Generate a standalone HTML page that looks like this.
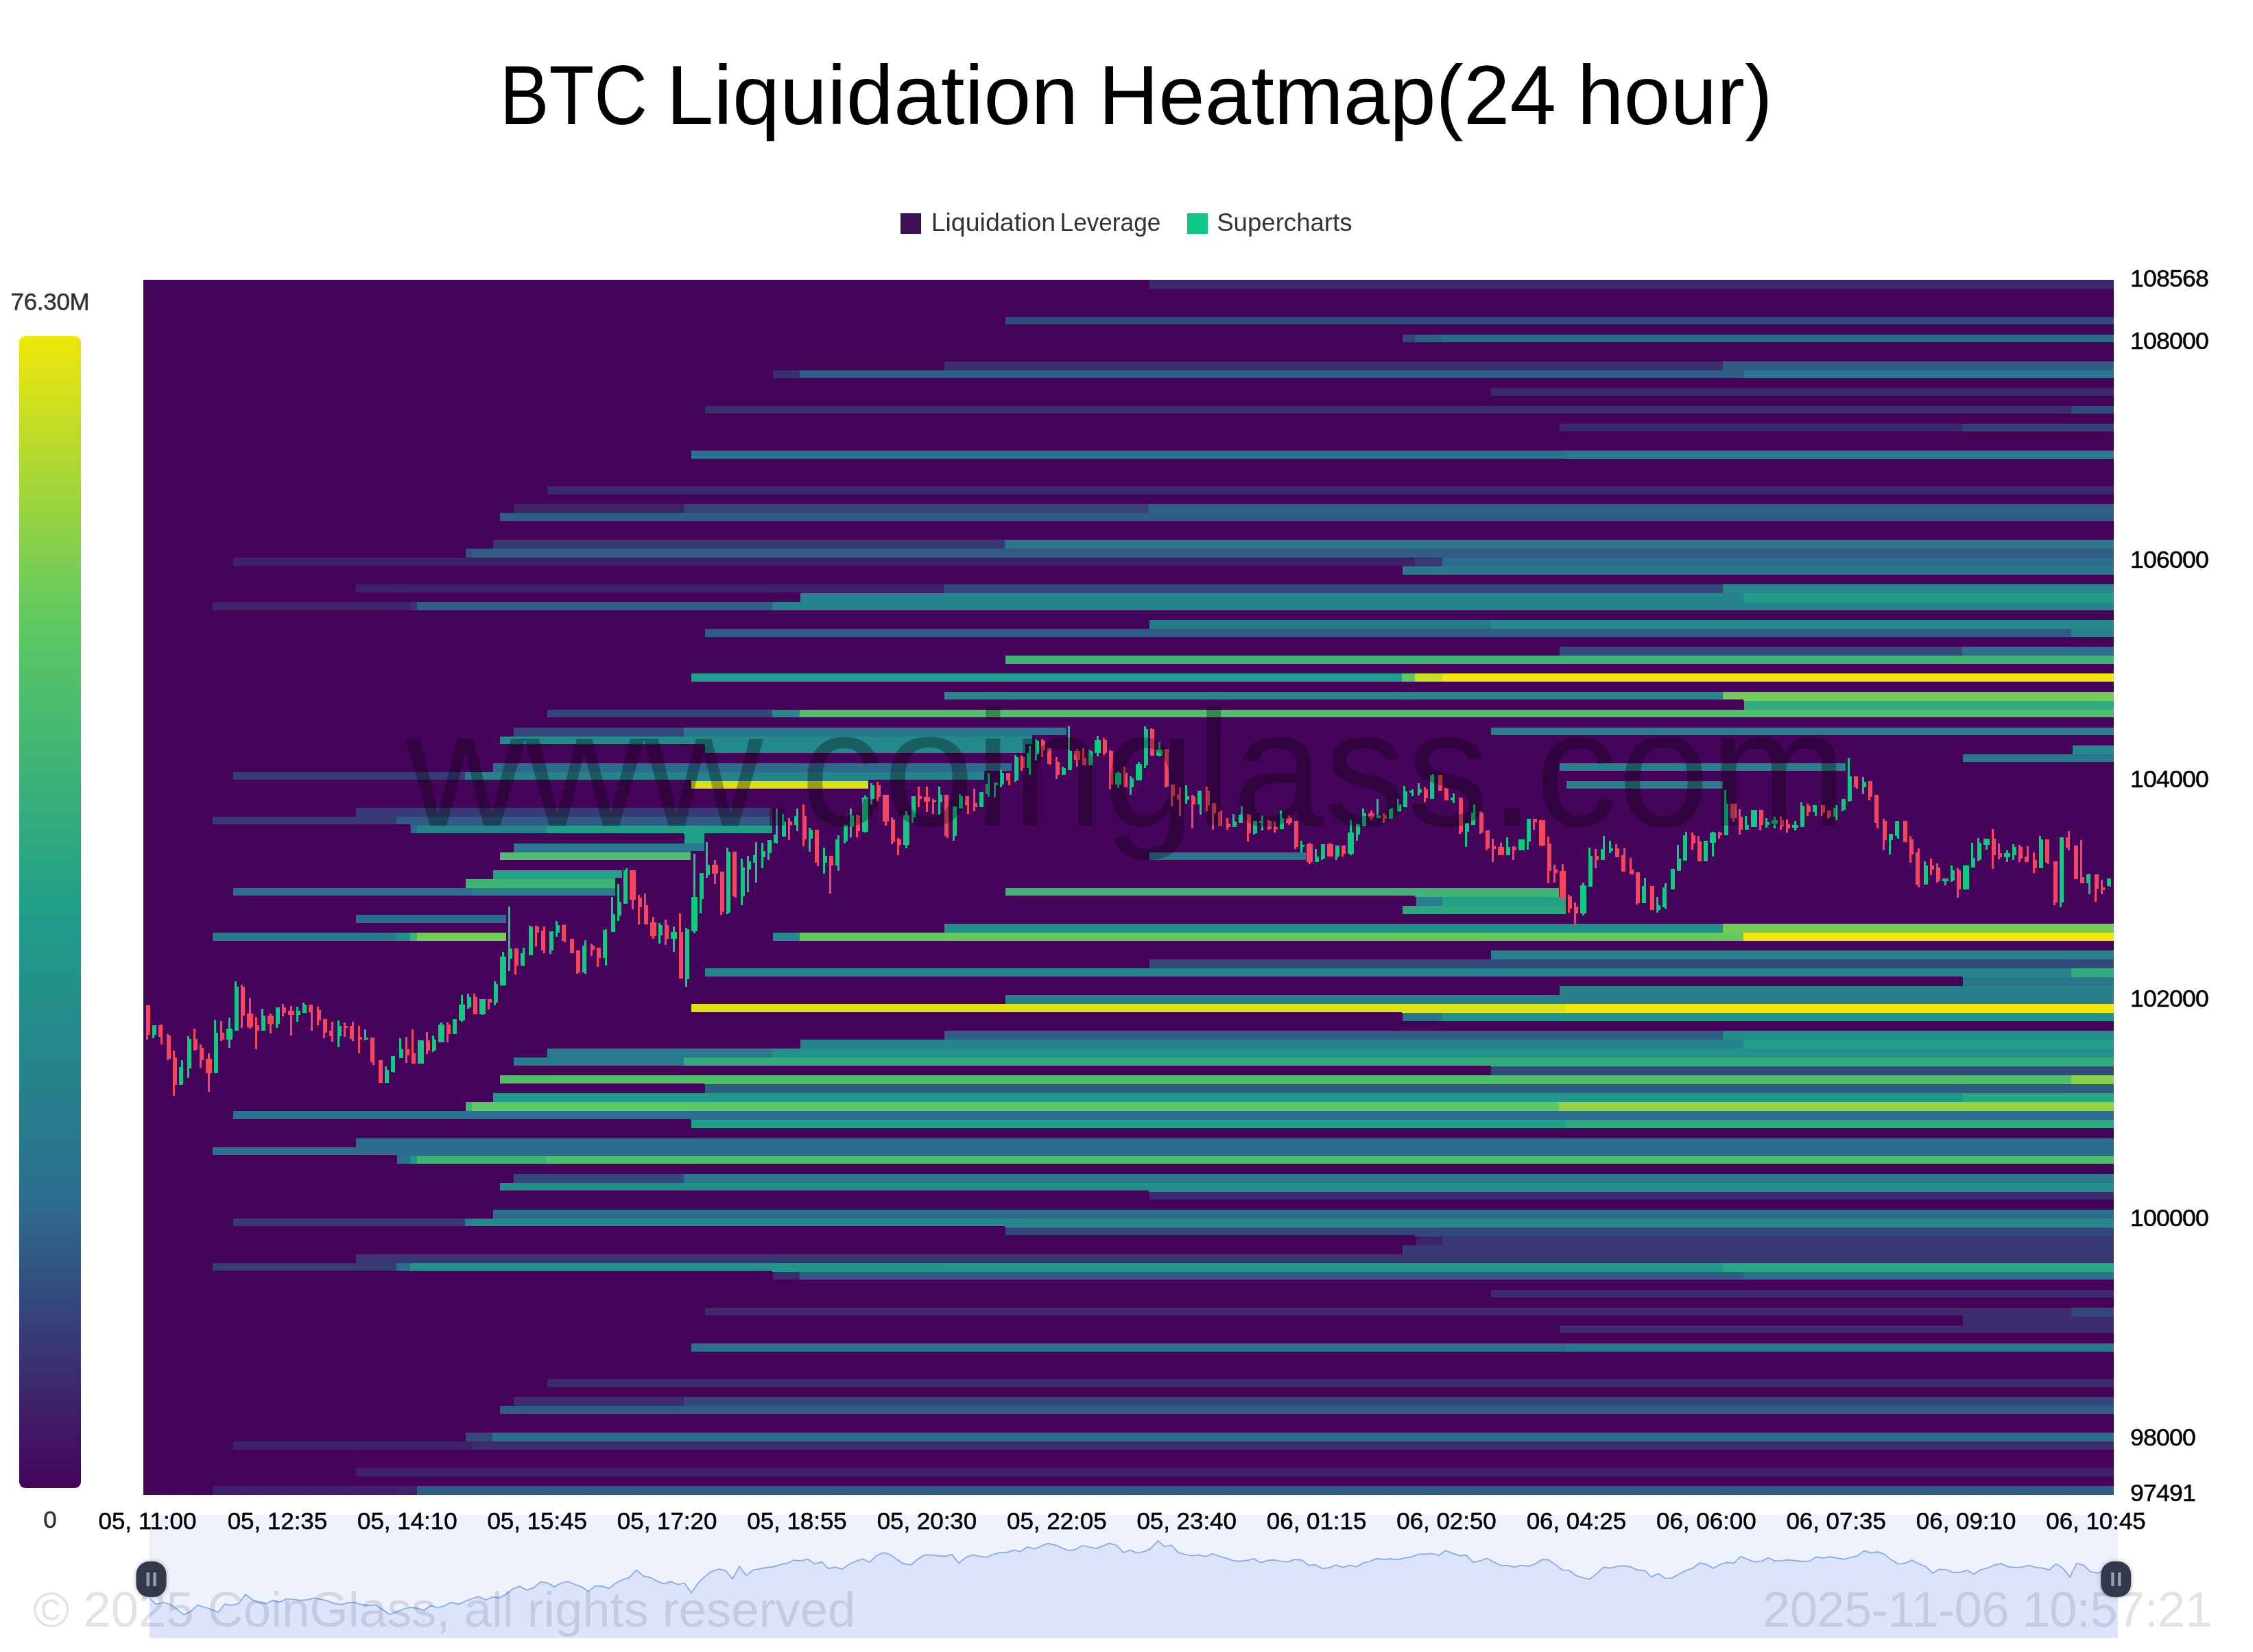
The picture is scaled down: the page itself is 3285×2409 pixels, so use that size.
<!DOCTYPE html><html><head><meta charset="utf-8"><title>BTC Liquidation Heatmap</title><style>html,body{margin:0;padding:0;background:#fff;}body{width:3285px;height:2409px;overflow:hidden;font-family:"Liberation Sans",sans-serif;}</style></head><body><svg width="3285" height="2409" viewBox="0 0 3285 2409" style="display:block;will-change:transform" shape-rendering="crispEdges">
<rect x="0" y="0" width="3285" height="2409" fill="#fff"/>
<rect x="209.1" y="408.1" width="2872.5" height="1771.7" fill="#45035a"/>
<rect x="1675.74" y="408.1" width="1405.86" height="13.02" fill="#3c2a6d"/>
<rect x="1466.39" y="461.68" width="1615.21" height="11.52" fill="#344a7c"/>
<rect x="2044.6" y="487.72" width="18.84" height="11.52" fill="#36447a"/>
<rect x="2063.43" y="487.72" width="39.88" height="11.52" fill="#2f6087"/>
<rect x="2103.31" y="487.72" width="978.29" height="11.52" fill="#2d6b8c"/>
<rect x="1376.67" y="526.78" width="1135.37" height="13.02" fill="#3b2f6f"/>
<rect x="2512.04" y="526.78" width="569.56" height="13.02" fill="#305c85"/>
<rect x="1127.45" y="539.8" width="38.78" height="11.52" fill="#3b2e6f"/>
<rect x="1166.22" y="539.8" width="1375.72" height="11.52" fill="#305c85"/>
<rect x="2541.95" y="539.8" width="539.65" height="11.52" fill="#2a768d"/>
<rect x="2174.19" y="565.84" width="907.41" height="11.52" fill="#3c2a6d"/>
<rect x="1027.76" y="591.88" width="1992.7" height="11.52" fill="#3c2b6d"/>
<rect x="3020.46" y="591.88" width="61.14" height="11.52" fill="#344a7c"/>
<rect x="2273.88" y="617.92" width="587.07" height="11.52" fill="#3c296c"/>
<rect x="2860.95" y="617.92" width="220.65" height="11.52" fill="#374178"/>
<rect x="1007.82" y="656.98" width="1274.93" height="11.52" fill="#2b708e"/>
<rect x="2282.75" y="656.98" width="798.85" height="11.52" fill="#297a8d"/>
<rect x="798.47" y="709.06" width="2283.13" height="11.52" fill="#3c296d"/>
<rect x="748.63" y="735.1" width="248.12" height="13.02" fill="#3d246a"/>
<rect x="996.75" y="735.1" width="677.89" height="13.02" fill="#364379"/>
<rect x="1674.64" y="735.1" width="1406.96" height="13.02" fill="#2f6188"/>
<rect x="728.69" y="748.12" width="18.84" height="11.52" fill="#2f6188"/>
<rect x="747.53" y="748.12" width="2334.07" height="11.52" fill="#315a84"/>
<rect x="718.72" y="787.18" width="746.57" height="13.02" fill="#393773"/>
<rect x="1465.29" y="787.18" width="1616.31" height="13.02" fill="#2a768d"/>
<rect x="678.84" y="800.2" width="8.87" height="13.02" fill="#325280"/>
<rect x="687.71" y="800.2" width="2393.89" height="13.02" fill="#305c85"/>
<rect x="339.9" y="813.22" width="1703.6" height="11.52" fill="#3e2269"/>
<rect x="2043.5" y="813.22" width="19.94" height="13.02" fill="#3e2269"/>
<rect x="2063.43" y="813.22" width="39.88" height="13.02" fill="#383c76"/>
<rect x="2103.31" y="813.22" width="978.29" height="13.02" fill="#2d6b8c"/>
<rect x="2044.6" y="826.24" width="1037" height="11.52" fill="#297a8d"/>
<rect x="519.34" y="852.28" width="646.88" height="11.52" fill="#3e2068"/>
<rect x="1166.22" y="852.28" width="209.35" height="13.02" fill="#3e2068"/>
<rect x="1375.57" y="852.28" width="1136.47" height="13.02" fill="#35487b"/>
<rect x="2512.04" y="852.28" width="569.56" height="13.02" fill="#26868c"/>
<rect x="1167.32" y="865.3" width="1374.62" height="13.02" fill="#26848c"/>
<rect x="2541.95" y="865.3" width="539.65" height="13.02" fill="#209f88"/>
<rect x="309.99" y="878.32" width="268.06" height="11.52" fill="#3e2369"/>
<rect x="578.05" y="878.32" width="19.94" height="11.52" fill="#3d246a"/>
<rect x="597.99" y="878.32" width="9.97" height="11.52" fill="#3b3070"/>
<rect x="607.96" y="878.32" width="518.39" height="11.52" fill="#305e86"/>
<rect x="1126.35" y="878.32" width="1955.25" height="11.52" fill="#26858c"/>
<rect x="1675.74" y="904.36" width="497.35" height="13.02" fill="#29798d"/>
<rect x="2173.09" y="904.36" width="908.51" height="13.02" fill="#25898b"/>
<rect x="1027.76" y="917.38" width="1992.7" height="11.52" fill="#305d86"/>
<rect x="3020.46" y="917.38" width="61.14" height="11.52" fill="#27808c"/>
<rect x="2273.88" y="943.42" width="587.07" height="13.02" fill="#344b7d"/>
<rect x="2860.95" y="943.42" width="220.65" height="13.02" fill="#2c6f8e"/>
<rect x="1466.39" y="956.44" width="1615.21" height="11.52" fill="#3fb475"/>
<rect x="1007.82" y="982.48" width="1035.68" height="11.52" fill="#1f9e89"/>
<rect x="2043.5" y="982.48" width="19.94" height="11.52" fill="#5dc863"/>
<rect x="2063.43" y="982.48" width="39.88" height="11.52" fill="#c7de23"/>
<rect x="2103.31" y="982.48" width="978.29" height="11.52" fill="#f0e60a"/>
<rect x="1376.67" y="1008.52" width="1135.37" height="11.52" fill="#25898b"/>
<rect x="2512.04" y="1008.52" width="29.91" height="11.52" fill="#73cd55"/>
<rect x="2541.95" y="1008.52" width="539.65" height="13.02" fill="#73cd55"/>
<rect x="2543.05" y="1021.54" width="538.55" height="13.02" fill="#33ab7d"/>
<rect x="798.47" y="1034.56" width="327.88" height="11.52" fill="#35487b"/>
<rect x="1126.35" y="1034.56" width="39.88" height="11.52" fill="#25898b"/>
<rect x="1166.22" y="1034.56" width="1915.38" height="11.52" fill="#4fbf6b"/>
<rect x="748.63" y="1060.6" width="248.12" height="13.02" fill="#35487b"/>
<rect x="996.75" y="1060.6" width="508.42" height="13.02" fill="#2a768d"/>
<rect x="1505.17" y="1060.6" width="49.84" height="11.52" fill="#2a768d"/>
<rect x="2174.19" y="1060.6" width="907.41" height="11.52" fill="#27808c"/>
<rect x="728.69" y="1073.62" width="297.97" height="11.52" fill="#25898b"/>
<rect x="1026.66" y="1073.62" width="468.54" height="13.02" fill="#25898b"/>
<rect x="1495.2" y="1073.62" width="9.97" height="11.52" fill="#25898b"/>
<rect x="1027.76" y="1086.64" width="467.44" height="11.52" fill="#25898b"/>
<rect x="3021.56" y="1086.64" width="60.04" height="13.02" fill="#25898b"/>
<rect x="2862.05" y="1099.66" width="219.55" height="11.52" fill="#2a768d"/>
<rect x="718.72" y="1112.68" width="716.67" height="13.02" fill="#2d6b8c"/>
<rect x="1435.39" y="1112.68" width="39.88" height="11.52" fill="#2d6b8c"/>
<rect x="2273.88" y="1112.68" width="417.6" height="11.52" fill="#27808c"/>
<rect x="339.9" y="1125.7" width="337.85" height="11.52" fill="#383b75"/>
<rect x="677.74" y="1125.7" width="9.97" height="11.52" fill="#297a8d"/>
<rect x="687.71" y="1125.7" width="319.01" height="11.52" fill="#27828c"/>
<rect x="1006.72" y="1125.7" width="259.19" height="13.02" fill="#27828c"/>
<rect x="1265.91" y="1125.7" width="169.47" height="11.52" fill="#27828c"/>
<rect x="1007.82" y="1138.72" width="258.09" height="11.52" fill="#dce216"/>
<rect x="2283.85" y="1138.72" width="228.19" height="11.52" fill="#27808c"/>
<rect x="519.34" y="1177.78" width="607.01" height="13.02" fill="#383b75"/>
<rect x="309.99" y="1190.8" width="268.06" height="11.52" fill="#383b75"/>
<rect x="578.05" y="1190.8" width="19.94" height="11.52" fill="#305c85"/>
<rect x="597.99" y="1190.8" width="528.36" height="13.02" fill="#305c85"/>
<rect x="599.09" y="1203.82" width="8.87" height="11.52" fill="#2d6a8c"/>
<rect x="607.96" y="1203.82" width="189.41" height="11.52" fill="#27828c"/>
<rect x="797.37" y="1203.82" width="199.38" height="11.52" fill="#1f9e89"/>
<rect x="996.75" y="1203.82" width="29.91" height="13.02" fill="#1f9e89"/>
<rect x="1026.66" y="1203.82" width="99.69" height="11.52" fill="#1f9e89"/>
<rect x="997.85" y="1216.84" width="28.81" height="13.02" fill="#1f9e89"/>
<rect x="748.63" y="1229.86" width="258.09" height="13.02" fill="#29788d"/>
<rect x="1006.72" y="1229.86" width="19.94" height="11.52" fill="#29788d"/>
<rect x="728.69" y="1242.88" width="278.03" height="11.52" fill="#4fbf6b"/>
<rect x="1675.74" y="1242.88" width="228.19" height="11.52" fill="#2a768d"/>
<rect x="718.72" y="1268.92" width="178.34" height="13.02" fill="#23a187"/>
<rect x="897.06" y="1268.92" width="9.97" height="11.52" fill="#23a187"/>
<rect x="678.84" y="1281.94" width="218.22" height="13.02" fill="#3fb475"/>
<rect x="339.9" y="1294.96" width="347.81" height="11.52" fill="#2b708e"/>
<rect x="687.71" y="1294.96" width="209.35" height="11.52" fill="#27808c"/>
<rect x="1466.39" y="1294.96" width="597.04" height="11.52" fill="#3fb475"/>
<rect x="2063.43" y="1294.96" width="209.35" height="13.02" fill="#3fb475"/>
<rect x="2064.53" y="1307.98" width="38.78" height="13.02" fill="#277f8c"/>
<rect x="2103.31" y="1307.98" width="179.44" height="13.02" fill="#23a187"/>
<rect x="2044.6" y="1321" width="238.16" height="11.52" fill="#2ca781"/>
<rect x="519.34" y="1334.02" width="218.22" height="11.52" fill="#2c6c8d"/>
<rect x="1376.67" y="1347.04" width="1135.37" height="13.02" fill="#238f8b"/>
<rect x="2512.04" y="1347.04" width="569.56" height="13.02" fill="#73cd55"/>
<rect x="309.99" y="1360.06" width="268.06" height="11.52" fill="#29788d"/>
<rect x="578.05" y="1360.06" width="19.94" height="11.52" fill="#23908a"/>
<rect x="597.99" y="1360.06" width="9.97" height="11.52" fill="#3fb475"/>
<rect x="607.96" y="1360.06" width="129.6" height="11.52" fill="#73cd55"/>
<rect x="1127.45" y="1360.06" width="38.78" height="11.52" fill="#25898b"/>
<rect x="1166.22" y="1360.06" width="1375.72" height="11.52" fill="#63c95f"/>
<rect x="2541.95" y="1360.06" width="539.65" height="11.52" fill="#f0e60a"/>
<rect x="2174.19" y="1386.1" width="907.41" height="13.02" fill="#27808c"/>
<rect x="1675.74" y="1399.12" width="1405.86" height="13.02" fill="#35487b"/>
<rect x="1027.76" y="1412.14" width="1833.2" height="11.52" fill="#26858c"/>
<rect x="2860.95" y="1412.14" width="159.5" height="13.02" fill="#26858c"/>
<rect x="3020.46" y="1412.14" width="61.14" height="13.02" fill="#33ab7d"/>
<rect x="2862.05" y="1425.16" width="219.55" height="13.02" fill="#2a768d"/>
<rect x="2273.88" y="1438.18" width="807.72" height="13.02" fill="#27808c"/>
<rect x="1466.39" y="1451.2" width="1615.21" height="13.02" fill="#27808c"/>
<rect x="1007.82" y="1464.22" width="1035.68" height="11.52" fill="#dce216"/>
<rect x="2043.5" y="1464.22" width="239.26" height="13.02" fill="#dce216"/>
<rect x="2282.75" y="1464.22" width="798.85" height="13.02" fill="#f0e60a"/>
<rect x="2044.6" y="1477.24" width="58.71" height="11.52" fill="#2a768d"/>
<rect x="2103.31" y="1477.24" width="978.29" height="11.52" fill="#22938a"/>
<rect x="1376.67" y="1503.28" width="1135.37" height="13.02" fill="#305c85"/>
<rect x="2512.04" y="1503.28" width="569.56" height="13.02" fill="#238f8b"/>
<rect x="1167.32" y="1516.3" width="1374.62" height="13.02" fill="#26858c"/>
<rect x="2541.95" y="1516.3" width="539.65" height="13.02" fill="#219f88"/>
<rect x="798.47" y="1529.32" width="327.88" height="13.02" fill="#297a8d"/>
<rect x="1126.35" y="1529.32" width="1955.25" height="13.02" fill="#23908a"/>
<rect x="748.63" y="1542.34" width="248.12" height="11.52" fill="#297a8d"/>
<rect x="996.75" y="1542.34" width="1176.34" height="11.52" fill="#33ab7d"/>
<rect x="2173.09" y="1542.34" width="908.51" height="13.02" fill="#33ab7d"/>
<rect x="2174.19" y="1555.36" width="907.41" height="13.02" fill="#35487b"/>
<rect x="728.69" y="1568.38" width="297.97" height="11.52" fill="#4fbf6b"/>
<rect x="1026.66" y="1568.38" width="1993.8" height="13.02" fill="#4fbf6b"/>
<rect x="3020.46" y="1568.38" width="61.14" height="13.02" fill="#86d04a"/>
<rect x="1027.76" y="1581.4" width="2053.84" height="13.02" fill="#305c85"/>
<rect x="718.72" y="1594.42" width="2142.23" height="13.02" fill="#21988a"/>
<rect x="2860.95" y="1594.42" width="220.65" height="13.02" fill="#2ba682"/>
<rect x="678.84" y="1607.44" width="8.87" height="13.02" fill="#3fb475"/>
<rect x="687.71" y="1607.44" width="1585.07" height="13.02" fill="#5dc863"/>
<rect x="2272.78" y="1607.44" width="808.82" height="13.02" fill="#93d342"/>
<rect x="339.9" y="1620.46" width="666.82" height="11.52" fill="#2b708e"/>
<rect x="1006.72" y="1620.46" width="2074.88" height="13.02" fill="#2b708e"/>
<rect x="1007.82" y="1633.48" width="1274.93" height="11.52" fill="#209f88"/>
<rect x="2282.75" y="1633.48" width="798.85" height="11.52" fill="#2fa97f"/>
<rect x="519.34" y="1659.52" width="2562.26" height="13.02" fill="#2c6c8d"/>
<rect x="309.99" y="1672.54" width="208.25" height="11.52" fill="#2b708e"/>
<rect x="518.24" y="1672.54" width="59.81" height="11.52" fill="#2c6d8d"/>
<rect x="578.05" y="1672.54" width="2503.55" height="13.02" fill="#2c6d8d"/>
<rect x="579.15" y="1685.56" width="18.84" height="11.52" fill="#2b708e"/>
<rect x="597.99" y="1685.56" width="9.97" height="11.52" fill="#21988a"/>
<rect x="607.96" y="1685.56" width="189.41" height="11.52" fill="#3fb475"/>
<rect x="797.37" y="1685.56" width="2284.23" height="11.52" fill="#4fbf6b"/>
<rect x="748.63" y="1711.6" width="248.12" height="13.02" fill="#35487b"/>
<rect x="996.75" y="1711.6" width="2084.85" height="13.02" fill="#29788d"/>
<rect x="728.69" y="1724.62" width="945.96" height="11.52" fill="#238f8b"/>
<rect x="1674.64" y="1724.62" width="1406.96" height="13.02" fill="#238f8b"/>
<rect x="1675.74" y="1737.64" width="1405.86" height="11.52" fill="#3c2b6d"/>
<rect x="718.72" y="1763.68" width="2362.88" height="13.02" fill="#2c6c8d"/>
<rect x="339.9" y="1776.7" width="337.85" height="11.52" fill="#383b75"/>
<rect x="677.74" y="1776.7" width="9.97" height="11.52" fill="#277f8c"/>
<rect x="687.71" y="1776.7" width="777.58" height="11.52" fill="#25898b"/>
<rect x="1465.29" y="1776.7" width="1616.31" height="13.02" fill="#25898b"/>
<rect x="1466.39" y="1789.72" width="597.04" height="11.52" fill="#35487b"/>
<rect x="2063.43" y="1789.72" width="1018.17" height="13.02" fill="#35487b"/>
<rect x="2064.53" y="1802.74" width="38.78" height="13.02" fill="#3d246a"/>
<rect x="2103.31" y="1802.74" width="978.29" height="13.02" fill="#383a75"/>
<rect x="2044.6" y="1815.76" width="1037" height="13.02" fill="#383b75"/>
<rect x="519.34" y="1828.78" width="2562.26" height="13.02" fill="#393673"/>
<rect x="309.99" y="1841.8" width="268.06" height="11.52" fill="#383b75"/>
<rect x="578.05" y="1841.8" width="19.94" height="11.52" fill="#2c6c8d"/>
<rect x="597.99" y="1841.8" width="528.36" height="11.52" fill="#23908a"/>
<rect x="1126.35" y="1841.8" width="249.22" height="13.02" fill="#22948a"/>
<rect x="1375.57" y="1841.8" width="1136.47" height="13.02" fill="#21988a"/>
<rect x="2512.04" y="1841.8" width="569.56" height="13.02" fill="#2ba682"/>
<rect x="1127.45" y="1854.82" width="38.78" height="11.52" fill="#3c2b6d"/>
<rect x="1166.22" y="1854.82" width="1375.72" height="11.52" fill="#305c85"/>
<rect x="2541.95" y="1854.82" width="539.65" height="11.52" fill="#2b708e"/>
<rect x="2174.19" y="1880.86" width="907.41" height="11.52" fill="#3c2b6d"/>
<rect x="1027.76" y="1906.9" width="1833.2" height="11.52" fill="#3c2b6d"/>
<rect x="2860.95" y="1906.9" width="159.5" height="13.02" fill="#3c2b6d"/>
<rect x="3020.46" y="1906.9" width="61.14" height="13.02" fill="#35487b"/>
<rect x="2862.05" y="1919.92" width="219.55" height="13.02" fill="#3c2b6d"/>
<rect x="2273.88" y="1932.94" width="807.72" height="11.52" fill="#3c2b6d"/>
<rect x="1007.82" y="1958.98" width="1274.93" height="11.52" fill="#2b708e"/>
<rect x="2282.75" y="1958.98" width="798.85" height="11.52" fill="#297a8d"/>
<rect x="798.47" y="2011.06" width="2283.13" height="11.52" fill="#3c2b6d"/>
<rect x="748.63" y="2037.1" width="248.12" height="13.02" fill="#3c2b6d"/>
<rect x="996.75" y="2037.1" width="2084.85" height="13.02" fill="#35487b"/>
<rect x="728.69" y="2050.12" width="2352.91" height="11.52" fill="#305c85"/>
<rect x="678.84" y="2089.18" width="38.78" height="13.02" fill="#35487b"/>
<rect x="717.62" y="2089.18" width="2363.98" height="13.02" fill="#2c6c8d"/>
<rect x="339.9" y="2102.2" width="347.81" height="11.52" fill="#3e2269"/>
<rect x="687.71" y="2102.2" width="2393.89" height="11.52" fill="#3c2b6d"/>
<rect x="519.34" y="2141.26" width="2562.26" height="11.52" fill="#3e2269"/>
<rect x="309.99" y="2167.3" width="268.06" height="12.5" fill="#3e2269"/>
<rect x="578.05" y="2167.3" width="29.91" height="12.5" fill="#3d246a"/>
<rect x="607.96" y="2167.3" width="2473.64" height="12.5" fill="#305c85"/>
<line x1="210" y1="2181.3" x2="3082" y2="2181.3" stroke="#e9e9e9" stroke-width="1.5" stroke-dasharray="12 6"/>
<rect x="213" y="1465.81" width="3" height="50.07" fill="#f6465d"/>
<rect x="213" y="1465.81" width="6" height="42.96" fill="#f6465d"/>
<rect x="222" y="1495.45" width="3" height="19" fill="#0ecb81"/>
<rect x="222" y="1495.45" width="6" height="13.32" fill="#0ecb81"/>
<rect x="234" y="1493.68" width="3" height="29.29" fill="#f6465d"/>
<rect x="231" y="1495.45" width="6" height="16.87" fill="#f6465d"/>
<rect x="243" y="1507.88" width="3" height="38.53" fill="#f6465d"/>
<rect x="243" y="1509.66" width="6" height="34.62" fill="#f6465d"/>
<rect x="252" y="1532.21" width="3" height="65.34" fill="#f6465d"/>
<rect x="252" y="1541.97" width="6" height="39.59" fill="#f6465d"/>
<rect x="264" y="1545.52" width="3" height="36.4" fill="#0ecb81"/>
<rect x="261" y="1555.82" width="6" height="26.1" fill="#0ecb81"/>
<rect x="273" y="1510.9" width="3" height="61.43" fill="#0ecb81"/>
<rect x="273" y="1514.63" width="6" height="43.85" fill="#0ecb81"/>
<rect x="282" y="1500.25" width="3" height="31.96" fill="#f6465d"/>
<rect x="282" y="1514.63" width="6" height="16.33" fill="#f6465d"/>
<rect x="291" y="1522.97" width="3" height="33.73" fill="#f6465d"/>
<rect x="291" y="1527.94" width="6" height="18.11" fill="#f6465d"/>
<rect x="303" y="1535.76" width="3" height="56.1" fill="#f6465d"/>
<rect x="300" y="1543.75" width="9" height="21.48" fill="#f6465d"/>
<rect x="312" y="1487.47" width="3" height="77.76" fill="#0ecb81"/>
<rect x="312" y="1506.46" width="6" height="58.77" fill="#0ecb81"/>
<rect x="321" y="1488.89" width="3" height="28.76" fill="#f6465d"/>
<rect x="321" y="1506.46" width="6" height="9.41" fill="#f6465d"/>
<rect x="333" y="1483.91" width="3" height="44.39" fill="#0ecb81"/>
<rect x="330" y="1499.89" width="9" height="15.62" fill="#0ecb81"/>
<rect x="342" y="1430.65" width="3" height="71.9" fill="#0ecb81"/>
<rect x="342" y="1438.64" width="6" height="63.91" fill="#0ecb81"/>
<rect x="351" y="1435.98" width="3" height="62.67" fill="#f6465d"/>
<rect x="351" y="1438.64" width="6" height="42.61" fill="#f6465d"/>
<rect x="363" y="1454.98" width="3" height="44.92" fill="#f6465d"/>
<rect x="360" y="1478.06" width="9" height="20.06" fill="#f6465d"/>
<rect x="372" y="1483.03" width="3" height="46.69" fill="#f6465d"/>
<rect x="372" y="1495.1" width="6" height="8.34" fill="#f6465d"/>
<rect x="381" y="1470.6" width="3" height="32.85" fill="#0ecb81"/>
<rect x="381" y="1481.25" width="6" height="22.19" fill="#0ecb81"/>
<rect x="393" y="1477.7" width="3" height="28.94" fill="#f6465d"/>
<rect x="390" y="1481.25" width="9" height="11.9" fill="#f6465d"/>
<rect x="402" y="1468.82" width="3" height="29.83" fill="#0ecb81"/>
<rect x="402" y="1468.82" width="6" height="24.5" fill="#0ecb81"/>
<rect x="411" y="1464.03" width="3" height="17.58" fill="#f6465d"/>
<rect x="411" y="1468.82" width="6" height="7.99" fill="#f6465d"/>
<rect x="423" y="1466.52" width="3" height="43.14" fill="#f6465d"/>
<rect x="420" y="1474.15" width="9" height="5.68" fill="#f6465d"/>
<rect x="432" y="1468.29" width="3" height="21.48" fill="#0ecb81"/>
<rect x="432" y="1474.15" width="6" height="5.68" fill="#0ecb81"/>
<rect x="441" y="1461.72" width="3" height="15.09" fill="#0ecb81"/>
<rect x="441" y="1465.27" width="6" height="11.54" fill="#0ecb81"/>
<rect x="453" y="1464.92" width="3" height="38.53" fill="#f6465d"/>
<rect x="450" y="1464.92" width="6" height="11.01" fill="#f6465d"/>
<rect x="462" y="1467.94" width="3" height="26.63" fill="#f6465d"/>
<rect x="462" y="1472.91" width="6" height="15.45" fill="#f6465d"/>
<rect x="471" y="1485.69" width="3" height="28.05" fill="#f6465d"/>
<rect x="471" y="1485.69" width="6" height="20.42" fill="#f6465d"/>
<rect x="483" y="1490.48" width="3" height="28.41" fill="#f6465d"/>
<rect x="480" y="1503.09" width="6" height="7.46" fill="#f6465d"/>
<rect x="492" y="1488.35" width="3" height="38.17" fill="#0ecb81"/>
<rect x="492" y="1496.34" width="6" height="14.2" fill="#0ecb81"/>
<rect x="501" y="1491.37" width="3" height="20.42" fill="#f6465d"/>
<rect x="501" y="1496.34" width="6" height="2.66" fill="#f6465d"/>
<rect x="513" y="1490.48" width="3" height="27.16" fill="#f6465d"/>
<rect x="510" y="1496.34" width="6" height="18.29" fill="#f6465d"/>
<rect x="522" y="1495.81" width="3" height="39.95" fill="#f6465d"/>
<rect x="522" y="1511.97" width="6" height="4.44" fill="#f6465d"/>
<rect x="531" y="1500.78" width="3" height="16.51" fill="#0ecb81"/>
<rect x="531" y="1513.21" width="6" height="3.2" fill="#0ecb81"/>
<rect x="543" y="1513.21" width="3" height="39.59" fill="#f6465d"/>
<rect x="540" y="1513.21" width="6" height="35.51" fill="#f6465d"/>
<rect x="552" y="1546.05" width="3" height="32.85" fill="#f6465d"/>
<rect x="552" y="1546.05" width="6" height="32.85" fill="#f6465d"/>
<rect x="561" y="1554.93" width="3" height="23.97" fill="#0ecb81"/>
<rect x="561" y="1560.26" width="6" height="18.64" fill="#0ecb81"/>
<rect x="573" y="1540.2" width="3" height="23.97" fill="#0ecb81"/>
<rect x="570" y="1540.2" width="6" height="22.73" fill="#0ecb81"/>
<rect x="582" y="1513.74" width="3" height="28.76" fill="#0ecb81"/>
<rect x="582" y="1530.08" width="6" height="12.43" fill="#0ecb81"/>
<rect x="591" y="1511.79" width="3" height="38.35" fill="#f6465d"/>
<rect x="591" y="1530.08" width="6" height="8.52" fill="#f6465d"/>
<rect x="600" y="1501.03" width="3" height="49.57" fill="#f6465d"/>
<rect x="600" y="1536.07" width="6" height="14.53" fill="#f6465d"/>
<rect x="612" y="1517.01" width="3" height="33.59" fill="#0ecb81"/>
<rect x="609" y="1517.01" width="9" height="33.59" fill="#0ecb81"/>
<rect x="621" y="1505.2" width="3" height="32.14" fill="#f6465d"/>
<rect x="621" y="1517.01" width="6" height="14.53" fill="#f6465d"/>
<rect x="630" y="1510.11" width="3" height="23.6" fill="#0ecb81"/>
<rect x="630" y="1516.46" width="6" height="15.07" fill="#0ecb81"/>
<rect x="642" y="1490.5" width="3" height="29.05" fill="#0ecb81"/>
<rect x="639" y="1494.31" width="9" height="25.24" fill="#0ecb81"/>
<rect x="651" y="1490.5" width="3" height="29.6" fill="#f6465d"/>
<rect x="651" y="1494.31" width="6" height="13.98" fill="#f6465d"/>
<rect x="660" y="1485.59" width="3" height="22.7" fill="#0ecb81"/>
<rect x="660" y="1485.59" width="6" height="22.7" fill="#0ecb81"/>
<rect x="672" y="1450.55" width="3" height="39.58" fill="#0ecb81"/>
<rect x="669" y="1465.26" width="9" height="23.06" fill="#0ecb81"/>
<rect x="681" y="1449.28" width="3" height="21.43" fill="#0ecb81"/>
<rect x="681" y="1454.36" width="6" height="14.53" fill="#0ecb81"/>
<rect x="690" y="1449.28" width="3" height="29.41" fill="#f6465d"/>
<rect x="690" y="1454.36" width="6" height="24.33" fill="#f6465d"/>
<rect x="702" y="1457.09" width="3" height="22.7" fill="#0ecb81"/>
<rect x="699" y="1457.09" width="9" height="21.61" fill="#0ecb81"/>
<rect x="711" y="1457.09" width="3" height="15.25" fill="#f6465d"/>
<rect x="711" y="1457.09" width="6" height="5.27" fill="#f6465d"/>
<rect x="720" y="1430.76" width="3" height="35.22" fill="#0ecb81"/>
<rect x="720" y="1434.75" width="6" height="27.24" fill="#0ecb81"/>
<rect x="732" y="1388.09" width="3" height="49.39" fill="#0ecb81"/>
<rect x="729" y="1395.35" width="9" height="42.12" fill="#0ecb81"/>
<rect x="741" y="1322.18" width="3" height="93.87" fill="#0ecb81"/>
<rect x="741" y="1382.64" width="6" height="15.8" fill="#0ecb81"/>
<rect x="750" y="1382.64" width="3" height="37.95" fill="#f6465d"/>
<rect x="750" y="1382.64" width="6" height="25.42" fill="#f6465d"/>
<rect x="762" y="1381.74" width="3" height="27.6" fill="#0ecb81"/>
<rect x="759" y="1389.91" width="6" height="18.16" fill="#0ecb81"/>
<rect x="771" y="1349.96" width="3" height="42.67" fill="#0ecb81"/>
<rect x="771" y="1351.23" width="6" height="41.4" fill="#0ecb81"/>
<rect x="780" y="1349.96" width="3" height="29.96" fill="#f6465d"/>
<rect x="780" y="1351.23" width="6" height="8.72" fill="#f6465d"/>
<rect x="792" y="1351.23" width="3" height="38.67" fill="#f6465d"/>
<rect x="789" y="1357.22" width="6" height="28.87" fill="#f6465d"/>
<rect x="801" y="1357.59" width="3" height="33.59" fill="#0ecb81"/>
<rect x="801" y="1357.59" width="6" height="28.14" fill="#0ecb81"/>
<rect x="810" y="1343.42" width="3" height="22.33" fill="#0ecb81"/>
<rect x="810" y="1348.51" width="6" height="11.8" fill="#0ecb81"/>
<rect x="822" y="1348.15" width="3" height="25.78" fill="#f6465d"/>
<rect x="819" y="1348.51" width="6" height="23.6" fill="#f6465d"/>
<rect x="831" y="1369.03" width="3" height="20.7" fill="#f6465d"/>
<rect x="831" y="1369.03" width="6" height="20.7" fill="#f6465d"/>
<rect x="840" y="1386.09" width="3" height="33.59" fill="#f6465d"/>
<rect x="840" y="1386.09" width="6" height="31.41" fill="#f6465d"/>
<rect x="852" y="1371.21" width="3" height="48.66" fill="#0ecb81"/>
<rect x="849" y="1379.01" width="6" height="38.49" fill="#0ecb81"/>
<rect x="861" y="1375.74" width="3" height="18.7" fill="#f6465d"/>
<rect x="861" y="1379.01" width="6" height="5.81" fill="#f6465d"/>
<rect x="870" y="1381.74" width="3" height="27.96" fill="#f6465d"/>
<rect x="870" y="1381.74" width="6" height="15.43" fill="#f6465d"/>
<rect x="882" y="1355.41" width="3" height="52.11" fill="#0ecb81"/>
<rect x="879" y="1356.13" width="6" height="41.03" fill="#0ecb81"/>
<rect x="891" y="1308.02" width="3" height="50.84" fill="#0ecb81"/>
<rect x="891" y="1332.71" width="6" height="26.15" fill="#0ecb81"/>
<rect x="900" y="1289.14" width="3" height="53.93" fill="#0ecb81"/>
<rect x="900" y="1314.92" width="6" height="19.97" fill="#0ecb81"/>
<rect x="912" y="1265.89" width="3" height="52.11" fill="#0ecb81"/>
<rect x="909" y="1268.62" width="6" height="49.39" fill="#0ecb81"/>
<rect x="921" y="1268.62" width="3" height="57.56" fill="#f6465d"/>
<rect x="918" y="1268.62" width="9" height="43.21" fill="#f6465d"/>
<rect x="930" y="1304.93" width="3" height="43.03" fill="#f6465d"/>
<rect x="930" y="1309.11" width="6" height="13.44" fill="#f6465d"/>
<rect x="939" y="1303.12" width="3" height="44.85" fill="#f6465d"/>
<rect x="939" y="1320" width="6" height="27.96" fill="#f6465d"/>
<rect x="951" y="1337.07" width="3" height="31.96" fill="#f6465d"/>
<rect x="948" y="1345.24" width="9" height="19.61" fill="#f6465d"/>
<rect x="960" y="1346.15" width="3" height="29.96" fill="#0ecb81"/>
<rect x="960" y="1349.05" width="6" height="15.43" fill="#0ecb81"/>
<rect x="969" y="1340.88" width="3" height="36.68" fill="#f6465d"/>
<rect x="969" y="1349.05" width="6" height="19.97" fill="#f6465d"/>
<rect x="981" y="1350.87" width="3" height="37.22" fill="#0ecb81"/>
<rect x="978" y="1359.4" width="9" height="9.62" fill="#0ecb81"/>
<rect x="990" y="1332.17" width="3" height="95.32" fill="#f6465d"/>
<rect x="990" y="1359.04" width="6" height="68.45" fill="#f6465d"/>
<rect x="999" y="1353.1" width="3" height="85.79" fill="#0ecb81"/>
<rect x="999" y="1355.18" width="6" height="72.63" fill="#0ecb81"/>
<rect x="1011" y="1244.81" width="3" height="116.21" fill="#0ecb81"/>
<rect x="1008" y="1307.82" width="9" height="49.93" fill="#0ecb81"/>
<rect x="1020" y="1272.96" width="3" height="59.37" fill="#0ecb81"/>
<rect x="1020" y="1272.96" width="6" height="38.49" fill="#0ecb81"/>
<rect x="1029" y="1228.47" width="3" height="51.57" fill="#0ecb81"/>
<rect x="1029" y="1260.61" width="6" height="15.43" fill="#0ecb81"/>
<rect x="1041" y="1254.25" width="3" height="34.5" fill="#f6465d"/>
<rect x="1038" y="1260.61" width="9" height="13.25" fill="#f6465d"/>
<rect x="1050" y="1271.14" width="3" height="63" fill="#f6465d"/>
<rect x="1050" y="1271.14" width="6" height="58.47" fill="#f6465d"/>
<rect x="1059" y="1236.1" width="3" height="96.6" fill="#0ecb81"/>
<rect x="1059" y="1242.09" width="6" height="88.42" fill="#0ecb81"/>
<rect x="1071" y="1242.09" width="3" height="66.64" fill="#f6465d"/>
<rect x="1068" y="1242.09" width="6" height="64.46" fill="#f6465d"/>
<rect x="1080" y="1251.89" width="3" height="67.73" fill="#0ecb81"/>
<rect x="1080" y="1265.15" width="6" height="41.4" fill="#0ecb81"/>
<rect x="1089" y="1247.9" width="3" height="53.56" fill="#0ecb81"/>
<rect x="1089" y="1255.52" width="6" height="11.98" fill="#0ecb81"/>
<rect x="1101" y="1228.47" width="3" height="58.47" fill="#0ecb81"/>
<rect x="1098" y="1247.35" width="6" height="11.08" fill="#0ecb81"/>
<rect x="1110" y="1229.38" width="3" height="36.68" fill="#0ecb81"/>
<rect x="1110" y="1241" width="6" height="9.26" fill="#0ecb81"/>
<rect x="1119" y="1225.2" width="3" height="28.69" fill="#0ecb81"/>
<rect x="1119" y="1225.2" width="6" height="18.7" fill="#0ecb81"/>
<rect x="1131" y="1179.26" width="3" height="50.48" fill="#0ecb81"/>
<rect x="1128" y="1217.03" width="6" height="11.8" fill="#0ecb81"/>
<rect x="1140" y="1187.07" width="3" height="32.68" fill="#0ecb81"/>
<rect x="1140" y="1197.6" width="6" height="22.15" fill="#0ecb81"/>
<rect x="1149" y="1193.06" width="3" height="32.14" fill="#f6465d"/>
<rect x="1149" y="1197.6" width="6" height="4.9" fill="#f6465d"/>
<rect x="1161" y="1179.45" width="3" height="32.14" fill="#0ecb81"/>
<rect x="1158" y="1190.34" width="6" height="12.17" fill="#0ecb81"/>
<rect x="1170" y="1172.55" width="3" height="61.19" fill="#f6465d"/>
<rect x="1170" y="1190.34" width="6" height="33.41" fill="#f6465d"/>
<rect x="1179" y="1207.04" width="3" height="35.41" fill="#0ecb81"/>
<rect x="1179" y="1210.31" width="6" height="13.07" fill="#0ecb81"/>
<rect x="1191" y="1210.31" width="3" height="52.47" fill="#f6465d"/>
<rect x="1188" y="1210.31" width="6" height="47.21" fill="#f6465d"/>
<rect x="1200" y="1235.55" width="3" height="38.13" fill="#0ecb81"/>
<rect x="1200" y="1247.9" width="6" height="9.62" fill="#0ecb81"/>
<rect x="1209" y="1247.9" width="3" height="54.83" fill="#f6465d"/>
<rect x="1209" y="1247.9" width="6" height="13.62" fill="#f6465d"/>
<rect x="1221" y="1218.3" width="3" height="51.38" fill="#0ecb81"/>
<rect x="1218" y="1223.93" width="6" height="37.59" fill="#0ecb81"/>
<rect x="1230" y="1202.51" width="3" height="27.24" fill="#0ecb81"/>
<rect x="1230" y="1202.51" width="6" height="24.15" fill="#0ecb81"/>
<rect x="1239" y="1179.26" width="3" height="41.4" fill="#0ecb81"/>
<rect x="1239" y="1189.25" width="6" height="15.98" fill="#0ecb81"/>
<rect x="1248" y="1187.98" width="3" height="33.23" fill="#f6465d"/>
<rect x="1248" y="1189.25" width="6" height="23.24" fill="#f6465d"/>
<rect x="1260" y="1160.2" width="3" height="53.56" fill="#0ecb81"/>
<rect x="1257" y="1162.92" width="9" height="49.93" fill="#0ecb81"/>
<rect x="1269" y="1142.22" width="3" height="30.87" fill="#0ecb81"/>
<rect x="1269" y="1144.95" width="6" height="20.34" fill="#0ecb81"/>
<rect x="1278" y="1140.41" width="3" height="28.87" fill="#f6465d"/>
<rect x="1278" y="1144.95" width="6" height="17.07" fill="#f6465d"/>
<rect x="1290" y="1158.93" width="3" height="44.85" fill="#f6465d"/>
<rect x="1287" y="1158.93" width="9" height="39.04" fill="#f6465d"/>
<rect x="1299" y="1192.16" width="3" height="39.04" fill="#f6465d"/>
<rect x="1299" y="1194.88" width="6" height="33.05" fill="#f6465d"/>
<rect x="1308" y="1222.12" width="3" height="24.51" fill="#f6465d"/>
<rect x="1308" y="1223.93" width="6" height="7.63" fill="#f6465d"/>
<rect x="1320" y="1183.44" width="3" height="53.2" fill="#0ecb81"/>
<rect x="1317" y="1189.25" width="9" height="42.31" fill="#0ecb81"/>
<rect x="1329" y="1161.11" width="3" height="38.67" fill="#0ecb81"/>
<rect x="1329" y="1161.11" width="6" height="30.5" fill="#0ecb81"/>
<rect x="1338" y="1146.58" width="3" height="30.87" fill="#f6465d"/>
<rect x="1338" y="1160.74" width="6" height="4.18" fill="#f6465d"/>
<rect x="1350" y="1147.13" width="3" height="36.68" fill="#f6465d"/>
<rect x="1347" y="1162.02" width="9" height="7.44" fill="#f6465d"/>
<rect x="1359" y="1164.74" width="3" height="21.97" fill="#f6465d"/>
<rect x="1359" y="1167.1" width="6" height="3.27" fill="#f6465d"/>
<rect x="1368" y="1147.13" width="3" height="40.85" fill="#0ecb81"/>
<rect x="1368" y="1158.93" width="6" height="11.44" fill="#0ecb81"/>
<rect x="1380" y="1158.57" width="3" height="63" fill="#f6465d"/>
<rect x="1377" y="1158.57" width="6" height="60.28" fill="#f6465d"/>
<rect x="1389" y="1176.18" width="3" height="50.3" fill="#0ecb81"/>
<rect x="1389" y="1176.18" width="6" height="43.21" fill="#0ecb81"/>
<rect x="1398" y="1157.66" width="3" height="21.24" fill="#0ecb81"/>
<rect x="1398" y="1161.29" width="6" height="17.61" fill="#0ecb81"/>
<rect x="1410" y="1161.29" width="3" height="25.42" fill="#f6465d"/>
<rect x="1407" y="1161.29" width="6" height="13.07" fill="#f6465d"/>
<rect x="1419" y="1150.21" width="3" height="32.68" fill="#f6465d"/>
<rect x="1419" y="1171.28" width="6" height="6.17" fill="#f6465d"/>
<rect x="1428" y="1154.93" width="3" height="22.51" fill="#0ecb81"/>
<rect x="1428" y="1154.93" width="6" height="22.51" fill="#0ecb81"/>
<rect x="1440" y="1127.15" width="3" height="34.86" fill="#0ecb81"/>
<rect x="1437" y="1142.95" width="6" height="14.71" fill="#0ecb81"/>
<rect x="1449" y="1141.13" width="3" height="21.79" fill="#0ecb81"/>
<rect x="1449" y="1141.13" width="6" height="3.81" fill="#0ecb81"/>
<rect x="1458" y="1122.98" width="3" height="24.69" fill="#0ecb81"/>
<rect x="1458" y="1127.15" width="6" height="16.89" fill="#0ecb81"/>
<rect x="1470" y="1127.15" width="3" height="17.79" fill="#f6465d"/>
<rect x="1467" y="1127.15" width="6" height="10.89" fill="#f6465d"/>
<rect x="1479" y="1101.19" width="3" height="38.67" fill="#0ecb81"/>
<rect x="1479" y="1103.55" width="6" height="34.5" fill="#0ecb81"/>
<rect x="1488" y="1102.1" width="3" height="21.97" fill="#f6465d"/>
<rect x="1488" y="1103.55" width="6" height="15.98" fill="#f6465d"/>
<rect x="1500" y="1088.12" width="3" height="42.12" fill="#0ecb81"/>
<rect x="1497" y="1097.74" width="6" height="21.79" fill="#0ecb81"/>
<rect x="1509" y="1077.77" width="3" height="30.87" fill="#0ecb81"/>
<rect x="1509" y="1079.95" width="6" height="19.97" fill="#0ecb81"/>
<rect x="1518" y="1077.77" width="3" height="26.69" fill="#f6465d"/>
<rect x="1518" y="1079.95" width="6" height="13.62" fill="#f6465d"/>
<rect x="1530" y="1090.84" width="3" height="24.15" fill="#f6465d"/>
<rect x="1527" y="1090.84" width="6" height="23.24" fill="#f6465d"/>
<rect x="1539" y="1103.91" width="3" height="31.77" fill="#f6465d"/>
<rect x="1539" y="1110.81" width="6" height="19.61" fill="#f6465d"/>
<rect x="1548" y="1118.08" width="3" height="12.35" fill="#0ecb81"/>
<rect x="1548" y="1120.44" width="6" height="9.99" fill="#0ecb81"/>
<rect x="1557" y="1059.06" width="3" height="63.91" fill="#0ecb81"/>
<rect x="1557" y="1095.02" width="6" height="27.96" fill="#0ecb81"/>
<rect x="1569" y="1092.29" width="3" height="25.24" fill="#f6465d"/>
<rect x="1566" y="1095.02" width="9" height="12.71" fill="#f6465d"/>
<rect x="1578" y="1090.84" width="3" height="25.42" fill="#f6465d"/>
<rect x="1578" y="1104.82" width="6" height="11.44" fill="#f6465d"/>
<rect x="1587" y="1093.02" width="3" height="23.24" fill="#0ecb81"/>
<rect x="1587" y="1095.38" width="6" height="20.88" fill="#0ecb81"/>
<rect x="1599" y="1073.05" width="3" height="29.96" fill="#0ecb81"/>
<rect x="1596" y="1078.67" width="9" height="19.79" fill="#0ecb81"/>
<rect x="1608" y="1075.95" width="3" height="24.88" fill="#f6465d"/>
<rect x="1608" y="1078.67" width="6" height="19.43" fill="#f6465d"/>
<rect x="1617" y="1094.11" width="3" height="56.65" fill="#f6465d"/>
<rect x="1617" y="1095.02" width="6" height="49.39" fill="#f6465d"/>
<rect x="1629" y="1124.98" width="3" height="23.6" fill="#0ecb81"/>
<rect x="1626" y="1127.15" width="9" height="17.25" fill="#0ecb81"/>
<rect x="1638" y="1117.71" width="3" height="30.69" fill="#f6465d"/>
<rect x="1638" y="1127.15" width="6" height="21.24" fill="#f6465d"/>
<rect x="1647" y="1132.24" width="3" height="26.69" fill="#0ecb81"/>
<rect x="1647" y="1135.32" width="6" height="13.07" fill="#0ecb81"/>
<rect x="1659" y="1110.81" width="3" height="27.24" fill="#0ecb81"/>
<rect x="1656" y="1114.08" width="9" height="23.97" fill="#0ecb81"/>
<rect x="1668" y="1059.06" width="3" height="61.37" fill="#0ecb81"/>
<rect x="1668" y="1062.7" width="6" height="53.56" fill="#0ecb81"/>
<rect x="1677" y="1061.79" width="3" height="39.95" fill="#f6465d"/>
<rect x="1677" y="1062.7" width="6" height="39.04" fill="#f6465d"/>
<rect x="1689" y="1082.12" width="3" height="21.06" fill="#0ecb81"/>
<rect x="1686" y="1093.02" width="9" height="8.72" fill="#0ecb81"/>
<rect x="1698" y="1092.29" width="3" height="55.74" fill="#f6465d"/>
<rect x="1698" y="1092.66" width="6" height="54.83" fill="#f6465d"/>
<rect x="1707" y="1144.04" width="3" height="31.77" fill="#f6465d"/>
<rect x="1707" y="1144.04" width="6" height="16.7" fill="#f6465d"/>
<rect x="1719" y="1148.03" width="3" height="41.76" fill="#f6465d"/>
<rect x="1716" y="1158.02" width="6" height="8.17" fill="#f6465d"/>
<rect x="1728" y="1145.31" width="3" height="26.69" fill="#0ecb81"/>
<rect x="1728" y="1160.74" width="6" height="5.45" fill="#0ecb81"/>
<rect x="1737" y="1159.29" width="3" height="49.02" fill="#f6465d"/>
<rect x="1737" y="1160.74" width="6" height="11.8" fill="#f6465d"/>
<rect x="1749" y="1152.94" width="3" height="34.68" fill="#0ecb81"/>
<rect x="1746" y="1152.94" width="6" height="19.61" fill="#0ecb81"/>
<rect x="1758" y="1147.13" width="3" height="35.77" fill="#f6465d"/>
<rect x="1758" y="1152.94" width="6" height="21.43" fill="#f6465d"/>
<rect x="1767" y="1171.09" width="3" height="38.67" fill="#f6465d"/>
<rect x="1767" y="1171.09" width="6" height="15.07" fill="#f6465d"/>
<rect x="1779" y="1182.07" width="3" height="21.97" fill="#f6465d"/>
<rect x="1776" y="1183.89" width="6" height="20.15" fill="#f6465d"/>
<rect x="1788" y="1192.96" width="3" height="16.89" fill="#f6465d"/>
<rect x="1788" y="1201.32" width="6" height="4.9" fill="#f6465d"/>
<rect x="1797" y="1187.15" width="3" height="18.7" fill="#0ecb81"/>
<rect x="1797" y="1197.5" width="6" height="8.35" fill="#0ecb81"/>
<rect x="1809" y="1174.81" width="3" height="25.06" fill="#0ecb81"/>
<rect x="1806" y="1187.7" width="6" height="12.17" fill="#0ecb81"/>
<rect x="1818" y="1187.15" width="3" height="39.4" fill="#f6465d"/>
<rect x="1818" y="1187.7" width="6" height="27.24" fill="#f6465d"/>
<rect x="1827" y="1197.14" width="3" height="19.61" fill="#0ecb81"/>
<rect x="1827" y="1197.14" width="6" height="17.79" fill="#0ecb81"/>
<rect x="1839" y="1188.97" width="3" height="21.79" fill="#0ecb81"/>
<rect x="1836" y="1197.18" width="6" height="3" fill="#0ecb81"/>
<rect x="1848" y="1196.23" width="3" height="13.62" fill="#f6465d"/>
<rect x="1848" y="1197.14" width="6" height="11.44" fill="#f6465d"/>
<rect x="1857" y="1198.05" width="3" height="16.34" fill="#f6465d"/>
<rect x="1857" y="1206.22" width="6" height="2.72" fill="#f6465d"/>
<rect x="1866" y="1182.25" width="3" height="26.69" fill="#0ecb81"/>
<rect x="1866" y="1193.15" width="6" height="15.8" fill="#0ecb81"/>
<rect x="1878" y="1189.33" width="3" height="13.62" fill="#f6465d"/>
<rect x="1875" y="1193.15" width="9" height="6.72" fill="#f6465d"/>
<rect x="1887" y="1197.14" width="3" height="40.85" fill="#f6465d"/>
<rect x="1887" y="1197.14" width="6" height="38.13" fill="#f6465d"/>
<rect x="1896" y="1226.19" width="3" height="16.34" fill="#0ecb81"/>
<rect x="1896" y="1232.18" width="6" height="2.54" fill="#0ecb81"/>
<rect x="1908" y="1229.28" width="3" height="31.05" fill="#f6465d"/>
<rect x="1905" y="1231.09" width="9" height="25.42" fill="#f6465d"/>
<rect x="1917" y="1237.99" width="3" height="18.7" fill="#0ecb81"/>
<rect x="1917" y="1248.89" width="6" height="7.81" fill="#0ecb81"/>
<rect x="1926" y="1231.28" width="3" height="23.06" fill="#0ecb81"/>
<rect x="1926" y="1231.28" width="6" height="20.34" fill="#0ecb81"/>
<rect x="1938" y="1229.28" width="3" height="19.97" fill="#f6465d"/>
<rect x="1935" y="1231.09" width="9" height="18.16" fill="#f6465d"/>
<rect x="1947" y="1233.09" width="3" height="21.24" fill="#0ecb81"/>
<rect x="1947" y="1233.09" width="6" height="16.16" fill="#0ecb81"/>
<rect x="1956" y="1233.09" width="3" height="15.8" fill="#f6465d"/>
<rect x="1956" y="1233.09" width="6" height="11.8" fill="#f6465d"/>
<rect x="1968" y="1196.23" width="3" height="50.84" fill="#0ecb81"/>
<rect x="1965" y="1214.03" width="9" height="30.69" fill="#0ecb81"/>
<rect x="1977" y="1201.13" width="3" height="24.69" fill="#0ecb81"/>
<rect x="1977" y="1202.04" width="6" height="14.71" fill="#0ecb81"/>
<rect x="1986" y="1178.98" width="3" height="25.78" fill="#0ecb81"/>
<rect x="1986" y="1186.25" width="6" height="18.52" fill="#0ecb81"/>
<rect x="1998" y="1182.25" width="3" height="13.98" fill="#f6465d"/>
<rect x="1995" y="1186.25" width="9" height="5.99" fill="#f6465d"/>
<rect x="2007" y="1164.82" width="3" height="27.78" fill="#0ecb81"/>
<rect x="2007" y="1188.97" width="6" height="3.63" fill="#0ecb81"/>
<rect x="2016" y="1186.25" width="3" height="13.62" fill="#f6465d"/>
<rect x="2016" y="1188.97" width="6" height="4.9" fill="#f6465d"/>
<rect x="2028" y="1178.08" width="3" height="15.8" fill="#0ecb81"/>
<rect x="2025" y="1179.89" width="6" height="13.98" fill="#0ecb81"/>
<rect x="2037" y="1165.37" width="3" height="17.61" fill="#0ecb81"/>
<rect x="2037" y="1173.17" width="6" height="9.8" fill="#0ecb81"/>
<rect x="2046" y="1145.76" width="3" height="30.87" fill="#0ecb81"/>
<rect x="2046" y="1154.11" width="6" height="22.51" fill="#0ecb81"/>
<rect x="2058" y="1151.38" width="3" height="9.44" fill="#0ecb81"/>
<rect x="2055" y="1153.02" width="6" height="3.27" fill="#0ecb81"/>
<rect x="2067" y="1142.12" width="3" height="18.16" fill="#0ecb81"/>
<rect x="2067" y="1151.38" width="6" height="4.54" fill="#0ecb81"/>
<rect x="2076" y="1148.12" width="3" height="21.43" fill="#f6465d"/>
<rect x="2076" y="1150.84" width="6" height="13.62" fill="#f6465d"/>
<rect x="2088" y="1129.05" width="3" height="35.77" fill="#0ecb81"/>
<rect x="2085" y="1129.96" width="6" height="34.86" fill="#0ecb81"/>
<rect x="2097" y="1129.96" width="3" height="23.24" fill="#f6465d"/>
<rect x="2097" y="1129.96" width="6" height="23.24" fill="#f6465d"/>
<rect x="2106" y="1148.66" width="3" height="18.52" fill="#f6465d"/>
<rect x="2106" y="1149.93" width="6" height="17.25" fill="#f6465d"/>
<rect x="2118" y="1156.83" width="3" height="13.98" fill="#0ecb81"/>
<rect x="2115" y="1163" width="6" height="3.63" fill="#0ecb81"/>
<rect x="2127" y="1163.19" width="3" height="52.66" fill="#f6465d"/>
<rect x="2127" y="1163.55" width="6" height="49.02" fill="#f6465d"/>
<rect x="2136" y="1199.5" width="3" height="35.77" fill="#0ecb81"/>
<rect x="2136" y="1199.5" width="6" height="13.07" fill="#0ecb81"/>
<rect x="2148" y="1173.17" width="3" height="29.41" fill="#0ecb81"/>
<rect x="2145" y="1185.34" width="6" height="17.25" fill="#0ecb81"/>
<rect x="2157" y="1183.15" width="3" height="32.68" fill="#f6465d"/>
<rect x="2157" y="1185.32" width="6" height="29.05" fill="#f6465d"/>
<rect x="2166" y="1211.29" width="3" height="28.51" fill="#f6465d"/>
<rect x="2166" y="1211.29" width="6" height="25.78" fill="#f6465d"/>
<rect x="2175" y="1222.91" width="3" height="33.59" fill="#f6465d"/>
<rect x="2175" y="1234.35" width="6" height="3.63" fill="#f6465d"/>
<rect x="2187" y="1228.9" width="3" height="17.61" fill="#f6465d"/>
<rect x="2184" y="1235.26" width="9" height="11.26" fill="#f6465d"/>
<rect x="2196" y="1221.28" width="3" height="25.24" fill="#0ecb81"/>
<rect x="2196" y="1234.71" width="6" height="11.8" fill="#0ecb81"/>
<rect x="2205" y="1233.99" width="3" height="19.97" fill="#f6465d"/>
<rect x="2205" y="1234.71" width="6" height="5.45" fill="#f6465d"/>
<rect x="2217" y="1224" width="3" height="16.34" fill="#0ecb81"/>
<rect x="2214" y="1224" width="9" height="16.34" fill="#0ecb81"/>
<rect x="2226" y="1193.86" width="3" height="44.67" fill="#0ecb81"/>
<rect x="2226" y="1193.86" width="6" height="32.86" fill="#0ecb81"/>
<rect x="2235" y="1193.86" width="3" height="15.98" fill="#f6465d"/>
<rect x="2235" y="1193.86" width="6" height="5.08" fill="#f6465d"/>
<rect x="2247" y="1196.22" width="3" height="37.77" fill="#f6465d"/>
<rect x="2244" y="1196.22" width="9" height="36.68" fill="#f6465d"/>
<rect x="2256" y="1219.82" width="3" height="67.73" fill="#f6465d"/>
<rect x="2256" y="1229.81" width="6" height="40.49" fill="#f6465d"/>
<rect x="2265" y="1261.22" width="3" height="25.42" fill="#f6465d"/>
<rect x="2265" y="1267.58" width="6" height="5.27" fill="#f6465d"/>
<rect x="2277" y="1260.13" width="3" height="53.74" fill="#f6465d"/>
<rect x="2274" y="1270.12" width="9" height="39.58" fill="#f6465d"/>
<rect x="2286" y="1304.8" width="3" height="25.78" fill="#f6465d"/>
<rect x="2286" y="1306.98" width="6" height="17.79" fill="#f6465d"/>
<rect x="2295" y="1316.42" width="3" height="32.32" fill="#f6465d"/>
<rect x="2295" y="1322.05" width="6" height="9.99" fill="#f6465d"/>
<rect x="2307" y="1287" width="3" height="48.12" fill="#0ecb81"/>
<rect x="2304" y="1290.64" width="9" height="41.4" fill="#0ecb81"/>
<rect x="2316" y="1236.16" width="3" height="57.19" fill="#0ecb81"/>
<rect x="2316" y="1247.97" width="6" height="45.39" fill="#0ecb81"/>
<rect x="2325" y="1238.34" width="3" height="27.78" fill="#f6465d"/>
<rect x="2325" y="1247.6" width="6" height="6.35" fill="#f6465d"/>
<rect x="2337" y="1218.55" width="3" height="35.22" fill="#0ecb81"/>
<rect x="2334" y="1237.98" width="6" height="15.8" fill="#0ecb81"/>
<rect x="2346" y="1225.81" width="3" height="18.16" fill="#0ecb81"/>
<rect x="2346" y="1237.07" width="6" height="4.18" fill="#0ecb81"/>
<rect x="2355" y="1230.72" width="3" height="19.06" fill="#f6465d"/>
<rect x="2355" y="1237.07" width="6" height="12.71" fill="#f6465d"/>
<rect x="2367" y="1237.07" width="3" height="33.95" fill="#f6465d"/>
<rect x="2364" y="1246.7" width="6" height="24.33" fill="#f6465d"/>
<rect x="2376" y="1251.05" width="3" height="24.15" fill="#f6465d"/>
<rect x="2376" y="1268.3" width="6" height="6.9" fill="#f6465d"/>
<rect x="2385" y="1272.12" width="3" height="47.21" fill="#f6465d"/>
<rect x="2385" y="1272.12" width="6" height="44.85" fill="#f6465d"/>
<rect x="2397" y="1280.1" width="3" height="36.5" fill="#0ecb81"/>
<rect x="2394" y="1291.91" width="6" height="24.69" fill="#0ecb81"/>
<rect x="2406" y="1291.91" width="3" height="35.04" fill="#f6465d"/>
<rect x="2406" y="1291.91" width="6" height="35.04" fill="#f6465d"/>
<rect x="2415" y="1308.43" width="3" height="22.51" fill="#0ecb81"/>
<rect x="2415" y="1320.23" width="6" height="6.72" fill="#0ecb81"/>
<rect x="2427" y="1287.91" width="3" height="37.22" fill="#0ecb81"/>
<rect x="2424" y="1293.9" width="6" height="29.05" fill="#0ecb81"/>
<rect x="2436" y="1267.39" width="3" height="29.23" fill="#0ecb81"/>
<rect x="2436" y="1267.39" width="6" height="29.23" fill="#0ecb81"/>
<rect x="2445" y="1231.99" width="3" height="38.13" fill="#0ecb81"/>
<rect x="2445" y="1252.14" width="6" height="17.98" fill="#0ecb81"/>
<rect x="2457" y="1212.92" width="3" height="41.94" fill="#0ecb81"/>
<rect x="2454" y="1218.37" width="6" height="36.5" fill="#0ecb81"/>
<rect x="2466" y="1214.01" width="3" height="25.24" fill="#f6465d"/>
<rect x="2466" y="1218.37" width="6" height="11.98" fill="#f6465d"/>
<rect x="2475" y="1218.92" width="3" height="36.86" fill="#f6465d"/>
<rect x="2475" y="1227.45" width="6" height="28.33" fill="#f6465d"/>
<rect x="2487" y="1225.81" width="3" height="29.96" fill="#0ecb81"/>
<rect x="2484" y="1225.81" width="6" height="29.96" fill="#0ecb81"/>
<rect x="2496" y="1213.47" width="3" height="35.77" fill="#0ecb81"/>
<rect x="2493" y="1214.01" width="9" height="14.53" fill="#0ecb81"/>
<rect x="2505" y="1212.92" width="3" height="9.99" fill="#f6465d"/>
<rect x="2505" y="1214.01" width="6" height="3.63" fill="#f6465d"/>
<rect x="2514" y="1152.1" width="3" height="66.27" fill="#0ecb81"/>
<rect x="2514" y="1172.25" width="6" height="46.12" fill="#0ecb81"/>
<rect x="2526" y="1172.07" width="3" height="25.96" fill="#f6465d"/>
<rect x="2523" y="1172.25" width="9" height="21.24" fill="#f6465d"/>
<rect x="2535" y="1180.24" width="3" height="36.5" fill="#f6465d"/>
<rect x="2535" y="1191.32" width="6" height="18.88" fill="#f6465d"/>
<rect x="2544" y="1189.86" width="3" height="20.34" fill="#0ecb81"/>
<rect x="2544" y="1203.12" width="6" height="7.08" fill="#0ecb81"/>
<rect x="2556" y="1180.77" width="3" height="25.06" fill="#0ecb81"/>
<rect x="2553" y="1181.13" width="9" height="24.69" fill="#0ecb81"/>
<rect x="2565" y="1181.13" width="3" height="29.6" fill="#f6465d"/>
<rect x="2565" y="1181.13" width="6" height="22.33" fill="#f6465d"/>
<rect x="2574" y="1192.57" width="3" height="14.53" fill="#0ecb81"/>
<rect x="2574" y="1198.57" width="6" height="4.9" fill="#0ecb81"/>
<rect x="2586" y="1191.12" width="3" height="17.25" fill="#0ecb81"/>
<rect x="2583" y="1196.21" width="9" height="5.08" fill="#0ecb81"/>
<rect x="2595" y="1189.85" width="3" height="19.97" fill="#f6465d"/>
<rect x="2595" y="1196.21" width="6" height="8.53" fill="#f6465d"/>
<rect x="2604" y="1194.93" width="3" height="18.88" fill="#f6465d"/>
<rect x="2604" y="1202.02" width="6" height="5.63" fill="#f6465d"/>
<rect x="2616" y="1197.11" width="3" height="13.62" fill="#0ecb81"/>
<rect x="2613" y="1203.47" width="9" height="3.63" fill="#0ecb81"/>
<rect x="2625" y="1170.24" width="3" height="35.59" fill="#0ecb81"/>
<rect x="2625" y="1175.32" width="6" height="30.5" fill="#0ecb81"/>
<rect x="2634" y="1172.24" width="3" height="17.61" fill="#f6465d"/>
<rect x="2634" y="1175.32" width="6" height="8.72" fill="#f6465d"/>
<rect x="2646" y="1173.51" width="3" height="16.34" fill="#0ecb81"/>
<rect x="2643" y="1174.42" width="6" height="9.62" fill="#0ecb81"/>
<rect x="2655" y="1174.42" width="3" height="15.43" fill="#f6465d"/>
<rect x="2655" y="1174.42" width="6" height="10.53" fill="#f6465d"/>
<rect x="2664" y="1182.22" width="3" height="11.8" fill="#f6465d"/>
<rect x="2664" y="1182.22" width="6" height="8.53" fill="#f6465d"/>
<rect x="2676" y="1174.05" width="3" height="21.79" fill="#0ecb81"/>
<rect x="2673" y="1178.05" width="6" height="13.07" fill="#0ecb81"/>
<rect x="2685" y="1164.98" width="3" height="17.98" fill="#0ecb81"/>
<rect x="2685" y="1164.98" width="6" height="15.8" fill="#0ecb81"/>
<rect x="2694" y="1105.42" width="3" height="63.55" fill="#0ecb81"/>
<rect x="2694" y="1132.11" width="6" height="36.31" fill="#0ecb81"/>
<rect x="2706" y="1132.11" width="3" height="17.43" fill="#f6465d"/>
<rect x="2703" y="1132.11" width="6" height="15.62" fill="#f6465d"/>
<rect x="2715" y="1133.2" width="3" height="25.24" fill="#0ecb81"/>
<rect x="2715" y="1139.56" width="6" height="8.17" fill="#0ecb81"/>
<rect x="2724" y="1139.37" width="3" height="27.42" fill="#f6465d"/>
<rect x="2724" y="1139.37" width="6" height="22.33" fill="#f6465d"/>
<rect x="2736" y="1158.62" width="3" height="49.39" fill="#f6465d"/>
<rect x="2733" y="1158.62" width="6" height="41.22" fill="#f6465d"/>
<rect x="2745" y="1194.39" width="3" height="45.39" fill="#f6465d"/>
<rect x="2745" y="1196.75" width="6" height="28.51" fill="#f6465d"/>
<rect x="2754" y="1215.81" width="3" height="29.78" fill="#0ecb81"/>
<rect x="2754" y="1215.81" width="6" height="9.44" fill="#0ecb81"/>
<rect x="2766" y="1197.11" width="3" height="25.96" fill="#0ecb81"/>
<rect x="2763" y="1197.11" width="6" height="21.79" fill="#0ecb81"/>
<rect x="2775" y="1197.11" width="3" height="30.5" fill="#f6465d"/>
<rect x="2775" y="1197.11" width="6" height="30.5" fill="#f6465d"/>
<rect x="2784" y="1219.26" width="3" height="38.67" fill="#f6465d"/>
<rect x="2784" y="1224.35" width="6" height="21.24" fill="#f6465d"/>
<rect x="2796" y="1236.51" width="3" height="57.38" fill="#f6465d"/>
<rect x="2793" y="1242.87" width="6" height="46.85" fill="#f6465d"/>
<rect x="2805" y="1256.12" width="3" height="33.59" fill="#0ecb81"/>
<rect x="2805" y="1262.12" width="6" height="27.6" fill="#0ecb81"/>
<rect x="2814" y="1252.13" width="3" height="23.42" fill="#f6465d"/>
<rect x="2814" y="1262.12" width="6" height="6.17" fill="#f6465d"/>
<rect x="2823" y="1259.21" width="3" height="27.78" fill="#f6465d"/>
<rect x="2823" y="1265.2" width="6" height="19.97" fill="#f6465d"/>
<rect x="2835" y="1280.64" width="3" height="10.35" fill="#0ecb81"/>
<rect x="2832" y="1280.64" width="9" height="4.18" fill="#0ecb81"/>
<rect x="2844" y="1262.48" width="3" height="23.6" fill="#0ecb81"/>
<rect x="2844" y="1268.83" width="6" height="15.43" fill="#0ecb81"/>
<rect x="2853" y="1266.11" width="3" height="42.67" fill="#f6465d"/>
<rect x="2853" y="1268.83" width="6" height="27.78" fill="#f6465d"/>
<rect x="2865" y="1261.93" width="3" height="34.68" fill="#0ecb81"/>
<rect x="2862" y="1262.48" width="9" height="34.14" fill="#0ecb81"/>
<rect x="2874" y="1228.89" width="3" height="36.31" fill="#0ecb81"/>
<rect x="2874" y="1251.04" width="6" height="14.16" fill="#0ecb81"/>
<rect x="2883" y="1221.99" width="3" height="34.5" fill="#0ecb81"/>
<rect x="2883" y="1228.89" width="6" height="25.06" fill="#0ecb81"/>
<rect x="2895" y="1222.53" width="3" height="16.34" fill="#0ecb81"/>
<rect x="2892" y="1222.53" width="9" height="9.08" fill="#0ecb81"/>
<rect x="2904" y="1209.32" width="3" height="57.51" fill="#f6465d"/>
<rect x="2904" y="1222.64" width="6" height="24.21" fill="#f6465d"/>
<rect x="2913" y="1230.27" width="3" height="22.64" fill="#f6465d"/>
<rect x="2913" y="1244.19" width="6" height="5.69" fill="#f6465d"/>
<rect x="2925" y="1239.95" width="3" height="16.83" fill="#0ecb81"/>
<rect x="2922" y="1244.19" width="9" height="5.69" fill="#0ecb81"/>
<rect x="2934" y="1230.87" width="3" height="23.24" fill="#0ecb81"/>
<rect x="2934" y="1234.5" width="6" height="12.35" fill="#0ecb81"/>
<rect x="2943" y="1232.08" width="3" height="24.46" fill="#f6465d"/>
<rect x="2943" y="1234.5" width="6" height="17.8" fill="#f6465d"/>
<rect x="2955" y="1234.14" width="3" height="23" fill="#f6465d"/>
<rect x="2952" y="1249.27" width="6" height="7.87" fill="#f6465d"/>
<rect x="2964" y="1242.98" width="3" height="29.9" fill="#f6465d"/>
<rect x="2964" y="1254.12" width="6" height="11.86" fill="#f6465d"/>
<rect x="2973" y="1219.01" width="3" height="46.85" fill="#0ecb81"/>
<rect x="2973" y="1224.09" width="6" height="41.77" fill="#0ecb81"/>
<rect x="2985" y="1224.09" width="3" height="35.71" fill="#f6465d"/>
<rect x="2982" y="1224.09" width="6" height="34.26" fill="#f6465d"/>
<rect x="2994" y="1255.57" width="3" height="64.53" fill="#f6465d"/>
<rect x="2994" y="1255.57" width="6" height="60.9" fill="#f6465d"/>
<rect x="3003" y="1221.19" width="3" height="101.69" fill="#0ecb81"/>
<rect x="3003" y="1221.19" width="6" height="95.28" fill="#0ecb81"/>
<rect x="3015" y="1211.99" width="3" height="27.85" fill="#f6465d"/>
<rect x="3012" y="1221.07" width="6" height="15.13" fill="#f6465d"/>
<rect x="3024" y="1233.17" width="3" height="48.55" fill="#f6465d"/>
<rect x="3024" y="1233.17" width="6" height="48.55" fill="#f6465d"/>
<rect x="3033" y="1225.3" width="3" height="63.08" fill="#f6465d"/>
<rect x="3033" y="1278.69" width="6" height="9.69" fill="#f6465d"/>
<rect x="3045" y="1273.85" width="3" height="29.9" fill="#0ecb81"/>
<rect x="3042" y="1275.06" width="6" height="13.32" fill="#0ecb81"/>
<rect x="3054" y="1274.7" width="3" height="39.95" fill="#f6465d"/>
<rect x="3054" y="1274.7" width="6" height="21.79" fill="#f6465d"/>
<rect x="3063" y="1282.57" width="3" height="21.19" fill="#f6465d"/>
<rect x="3063" y="1293.7" width="6" height="4" fill="#f6465d"/>
<rect x="3075" y="1281.11" width="3" height="12.11" fill="#0ecb81"/>
<rect x="3072" y="1281.11" width="6" height="11.14" fill="#0ecb81"/>
<text x="1642.3" y="1204" text-anchor="middle" textLength="2101" lengthAdjust="spacing" font-family="Liberation Sans, sans-serif" font-size="240" fill="rgba(0,0,0,0.3)" id="wm">www.coinglass.com</text>
<defs><linearGradient id="cb" x1="0" y1="1" x2="0" y2="0">
<stop offset="0.0" stop-color="#45035a"/>
<stop offset="0.25" stop-color="#2c6e8e"/>
<stop offset="0.5" stop-color="#1f9e89"/>
<stop offset="0.75" stop-color="#5dc863"/>
<stop offset="1.0" stop-color="#f0e60a"/>
</linearGradient></defs>
<rect x="28" y="490" width="90" height="1680" rx="9" ry="9" fill="url(#cb)" shape-rendering="auto"/>
<text x="73" y="452" text-anchor="middle" font-family="Liberation Sans, sans-serif" font-size="35" fill="#333" stroke="#333" stroke-width="0.5" letter-spacing="-0.3">76.30M</text>
<text x="73" y="2228" text-anchor="middle" font-family="Liberation Sans, sans-serif" font-size="35" fill="#333" stroke="#333" stroke-width="0.5">0</text>
<text x="3106" y="417.8" font-family="Liberation Sans, sans-serif" font-size="35.5" fill="#000" stroke="#000" stroke-width="0.5" letter-spacing="-0.75">108568</text>
<text x="3106" y="508.62" font-family="Liberation Sans, sans-serif" font-size="35.5" fill="#000" stroke="#000" stroke-width="0.5" letter-spacing="-0.75">108000</text>
<text x="3106" y="828.42" font-family="Liberation Sans, sans-serif" font-size="35.5" fill="#000" stroke="#000" stroke-width="0.5" letter-spacing="-0.75">106000</text>
<text x="3106" y="1148.22" font-family="Liberation Sans, sans-serif" font-size="35.5" fill="#000" stroke="#000" stroke-width="0.5" letter-spacing="-0.75">104000</text>
<text x="3106" y="1468.02" font-family="Liberation Sans, sans-serif" font-size="35.5" fill="#000" stroke="#000" stroke-width="0.5" letter-spacing="-0.75">102000</text>
<text x="3106" y="1787.81" font-family="Liberation Sans, sans-serif" font-size="35.5" fill="#000" stroke="#000" stroke-width="0.5" letter-spacing="-0.75">100000</text>
<text x="3106" y="2107.61" font-family="Liberation Sans, sans-serif" font-size="35.5" fill="#000" stroke="#000" stroke-width="0.5" letter-spacing="-0.75">98000</text>
<text x="3106" y="2189" font-family="Liberation Sans, sans-serif" font-size="35.5" fill="#000" stroke="#000" stroke-width="0.5" letter-spacing="-0.75">97491</text>
<rect x="218" y="2209" width="2870" height="179.5" fill="#eef2fd"/>
<path d="M218 2330.61 L228 2339.52 L238 2336.76 L248 2339.7 L258 2346.4 L268 2354.69 L278 2349.83 L288 2340.73 L298 2343.5 L308 2346.77 L318 2351.23 L328 2339.04 L338 2340.92 L348 2338.23 L358 2324.97 L368 2333.15 L378 2336.68 L388 2338.41 L398 2333.81 L408 2336.32 L418 2331.23 L428 2332.34 L438 2333.52 L448 2332.89 L458 2330.42 L468 2332.08 L478 2334.73 L488 2338.34 L498 2339.89 L508 2336.94 L518 2336.94 L528 2340.18 L538 2341.1 L548 2340.44 L558 2347.25 L568 2354.06 L578 2350.75 L588 2346.52 L598 2343.94 L608 2345.18 L618 2348.19 L628 2341.23 L638 2344.24 L648 2341.75 L658 2336.52 L668 2339.42 L678 2335.28 L688 2331.25 L698 2328.24 L708 2333.28 L718 2328.8 L728 2329.82 L738 2324.73 L748 2316.64 L758 2313.36 L768 2318.63 L778 2315.43 L788 2306.85 L798 2308.09 L808 2314 L818 2308.73 L828 2306.28 L838 2310.54 L848 2314.08 L858 2320.59 L868 2312.61 L878 2313.17 L888 2316.37 L898 2308.43 L908 2303.46 L918 2299.95 L928 2289.71 L938 2298.11 L948 2300.37 L958 2305.6 L968 2309.59 L978 2306.39 L988 2310.54 L998 2308.46 L1008 2322.73 L1018 2308.2 L1028 2298.59 L1038 2291.25 L1048 2288.05 L1058 2290.23 L1068 2302.55 L1078 2284.21 L1088 2297.58 L1098 2289.48 L1108 2287.6 L1118 2285.9 L1128 2284.59 L1138 2281.46 L1148 2279.58 L1158 2274.98 L1168 2276 L1178 2273.48 L1188 2280.33 L1198 2277.62 L1208 2287.41 L1218 2285.41 L1228 2288.24 L1238 2281.01 L1248 2276.56 L1258 2273.25 L1268 2278.15 L1278 2268.28 L1288 2264.06 L1298 2266.96 L1308 2274.42 L1318 2280.44 L1328 2282.02 L1338 2273.74 L1348 2267.34 L1358 2267.6 L1368 2268.66 L1378 2269.33 L1388 2266.89 L1398 2279.5 L1408 2271.1 L1418 2267.45 L1428 2269.52 L1438 2270.8 L1448 2266.7 L1458 2264.06 L1468 2263.87 L1478 2260.37 L1488 2262.63 L1498 2255.48 L1508 2258.79 L1518 2254.72 L1528 2250.58 L1538 2252.84 L1548 2256.98 L1558 2261.05 L1568 2259.51 L1578 2253.71 L1588 2255.74 L1598 2258.11 L1608 2254.42 L1618 2250.32 L1628 2253.71 L1638 2263.95 L1648 2260.37 L1658 2264.78 L1668 2262.63 L1678 2258.11 L1688 2247 L1698 2255.1 L1708 2253.22 L1718 2263.87 L1728 2266.77 L1738 2268.47 L1748 2267.34 L1758 2269.79 L1768 2265.72 L1778 2269.48 L1788 2272.14 L1798 2275.75 L1808 2276.69 L1818 2275.45 L1828 2272.93 L1838 2278.58 L1848 2275.45 L1858 2274.89 L1868 2276.77 L1878 2277.33 L1888 2274.06 L1898 2274.89 L1908 2282.68 L1918 2281.93 L1928 2287.24 L1938 2286.18 L1948 2281.93 L1958 2285.69 L1968 2282.34 L1978 2284.75 L1988 2278.95 L1998 2276.47 L2008 2272.63 L2018 2273.95 L2028 2273.19 L2038 2274.21 L2048 2271.95 L2058 2270.63 L2068 2266.41 L2078 2266.34 L2088 2265.28 L2098 2268.18 L2108 2260.95 L2118 2265.1 L2128 2268.56 L2138 2267.92 L2148 2278.09 L2158 2276.02 L2168 2272.44 L2178 2277.82 L2188 2282.6 L2198 2282.79 L2208 2285.13 L2218 2282.68 L2228 2283.85 L2238 2281.02 L2248 2274.21 L2258 2274.7 L2268 2281.66 L2278 2289.5 L2288 2290.02 L2298 2297.67 L2308 2300.79 L2318 2302.86 L2328 2294.84 L2338 2285.35 L2348 2286.63 L2358 2284.03 L2368 2283.17 L2378 2285.16 L2388 2289.65 L2398 2290.44 L2408 2299.66 L2418 2294.54 L2428 2301.81 L2438 2300.98 L2448 2295.52 L2458 2290.02 L2468 2286.86 L2478 2279.29 L2488 2281.17 L2498 2287.05 L2508 2281.4 L2518 2278.39 L2528 2279.29 L2538 2269.72 L2548 2273.68 L2558 2277.6 L2568 2276.69 L2578 2271.57 L2588 2276.2 L2598 2275.75 L2608 2274.69 L2618 2275.9 L2628 2276.95 L2638 2276.69 L2648 2270.36 L2658 2272.17 L2668 2270.17 L2678 2271.79 L2688 2273.64 L2698 2271.49 L2708 2268.93 L2718 2261.4 L2728 2264.64 L2738 2262.91 L2748 2266.9 L2758 2274.81 L2768 2280.72 L2778 2279.4 L2788 2274.88 L2798 2280.53 L2808 2284.37 L2818 2294.09 L2828 2288.36 L2838 2289 L2848 2293.07 L2858 2292.96 L2868 2289.76 L2878 2295.52 L2888 2289 L2898 2286.67 L2908 2282.04 L2918 2280.18 L2928 2284.64 L2938 2285.82 L2948 2285.2 L2958 2282.64 L2968 2285.7 L2978 2286.7 L2988 2289.14 L2998 2280.48 L3008 2287.01 L3018 2299.63 L3028 2279.85 L3038 2282.36 L3048 2291.8 L3058 2293.81 L3068 2290.97 L3078 2294.91 L3088 2294.61 L3088 2388.5 L218 2388.5 Z" fill="#dbe4fa" shape-rendering="auto"/>
<path d="M218 2330.61 L228 2339.52 L238 2336.76 L248 2339.7 L258 2346.4 L268 2354.69 L278 2349.83 L288 2340.73 L298 2343.5 L308 2346.77 L318 2351.23 L328 2339.04 L338 2340.92 L348 2338.23 L358 2324.97 L368 2333.15 L378 2336.68 L388 2338.41 L398 2333.81 L408 2336.32 L418 2331.23 L428 2332.34 L438 2333.52 L448 2332.89 L458 2330.42 L468 2332.08 L478 2334.73 L488 2338.34 L498 2339.89 L508 2336.94 L518 2336.94 L528 2340.18 L538 2341.1 L548 2340.44 L558 2347.25 L568 2354.06 L578 2350.75 L588 2346.52 L598 2343.94 L608 2345.18 L618 2348.19 L628 2341.23 L638 2344.24 L648 2341.75 L658 2336.52 L668 2339.42 L678 2335.28 L688 2331.25 L698 2328.24 L708 2333.28 L718 2328.8 L728 2329.82 L738 2324.73 L748 2316.64 L758 2313.36 L768 2318.63 L778 2315.43 L788 2306.85 L798 2308.09 L808 2314 L818 2308.73 L828 2306.28 L838 2310.54 L848 2314.08 L858 2320.59 L868 2312.61 L878 2313.17 L888 2316.37 L898 2308.43 L908 2303.46 L918 2299.95 L928 2289.71 L938 2298.11 L948 2300.37 L958 2305.6 L968 2309.59 L978 2306.39 L988 2310.54 L998 2308.46 L1008 2322.73 L1018 2308.2 L1028 2298.59 L1038 2291.25 L1048 2288.05 L1058 2290.23 L1068 2302.55 L1078 2284.21 L1088 2297.58 L1098 2289.48 L1108 2287.6 L1118 2285.9 L1128 2284.59 L1138 2281.46 L1148 2279.58 L1158 2274.98 L1168 2276 L1178 2273.48 L1188 2280.33 L1198 2277.62 L1208 2287.41 L1218 2285.41 L1228 2288.24 L1238 2281.01 L1248 2276.56 L1258 2273.25 L1268 2278.15 L1278 2268.28 L1288 2264.06 L1298 2266.96 L1308 2274.42 L1318 2280.44 L1328 2282.02 L1338 2273.74 L1348 2267.34 L1358 2267.6 L1368 2268.66 L1378 2269.33 L1388 2266.89 L1398 2279.5 L1408 2271.1 L1418 2267.45 L1428 2269.52 L1438 2270.8 L1448 2266.7 L1458 2264.06 L1468 2263.87 L1478 2260.37 L1488 2262.63 L1498 2255.48 L1508 2258.79 L1518 2254.72 L1528 2250.58 L1538 2252.84 L1548 2256.98 L1558 2261.05 L1568 2259.51 L1578 2253.71 L1588 2255.74 L1598 2258.11 L1608 2254.42 L1618 2250.32 L1628 2253.71 L1638 2263.95 L1648 2260.37 L1658 2264.78 L1668 2262.63 L1678 2258.11 L1688 2247 L1698 2255.1 L1708 2253.22 L1718 2263.87 L1728 2266.77 L1738 2268.47 L1748 2267.34 L1758 2269.79 L1768 2265.72 L1778 2269.48 L1788 2272.14 L1798 2275.75 L1808 2276.69 L1818 2275.45 L1828 2272.93 L1838 2278.58 L1848 2275.45 L1858 2274.89 L1868 2276.77 L1878 2277.33 L1888 2274.06 L1898 2274.89 L1908 2282.68 L1918 2281.93 L1928 2287.24 L1938 2286.18 L1948 2281.93 L1958 2285.69 L1968 2282.34 L1978 2284.75 L1988 2278.95 L1998 2276.47 L2008 2272.63 L2018 2273.95 L2028 2273.19 L2038 2274.21 L2048 2271.95 L2058 2270.63 L2068 2266.41 L2078 2266.34 L2088 2265.28 L2098 2268.18 L2108 2260.95 L2118 2265.1 L2128 2268.56 L2138 2267.92 L2148 2278.09 L2158 2276.02 L2168 2272.44 L2178 2277.82 L2188 2282.6 L2198 2282.79 L2208 2285.13 L2218 2282.68 L2228 2283.85 L2238 2281.02 L2248 2274.21 L2258 2274.7 L2268 2281.66 L2278 2289.5 L2288 2290.02 L2298 2297.67 L2308 2300.79 L2318 2302.86 L2328 2294.84 L2338 2285.35 L2348 2286.63 L2358 2284.03 L2368 2283.17 L2378 2285.16 L2388 2289.65 L2398 2290.44 L2408 2299.66 L2418 2294.54 L2428 2301.81 L2438 2300.98 L2448 2295.52 L2458 2290.02 L2468 2286.86 L2478 2279.29 L2488 2281.17 L2498 2287.05 L2508 2281.4 L2518 2278.39 L2528 2279.29 L2538 2269.72 L2548 2273.68 L2558 2277.6 L2568 2276.69 L2578 2271.57 L2588 2276.2 L2598 2275.75 L2608 2274.69 L2618 2275.9 L2628 2276.95 L2638 2276.69 L2648 2270.36 L2658 2272.17 L2668 2270.17 L2678 2271.79 L2688 2273.64 L2698 2271.49 L2708 2268.93 L2718 2261.4 L2728 2264.64 L2738 2262.91 L2748 2266.9 L2758 2274.81 L2768 2280.72 L2778 2279.4 L2788 2274.88 L2798 2280.53 L2808 2284.37 L2818 2294.09 L2828 2288.36 L2838 2289 L2848 2293.07 L2858 2292.96 L2868 2289.76 L2878 2295.52 L2888 2289 L2898 2286.67 L2908 2282.04 L2918 2280.18 L2928 2284.64 L2938 2285.82 L2948 2285.2 L2958 2282.64 L2968 2285.7 L2978 2286.7 L2988 2289.14 L2998 2280.48 L3008 2287.01 L3018 2299.63 L3028 2279.85 L3038 2282.36 L3048 2291.8 L3058 2293.81 L3068 2290.97 L3078 2294.91 L3088 2294.61" fill="none" stroke="#83a7f5" stroke-width="1.7" stroke-linejoin="round" shape-rendering="auto"/>
<text x="215" y="2230.2" text-anchor="middle" font-family="Liberation Sans, sans-serif" font-size="35" fill="#000" stroke="#000" stroke-width="0.5" letter-spacing="-0.05">05, 11:00</text>
<text x="404.4" y="2230.2" text-anchor="middle" font-family="Liberation Sans, sans-serif" font-size="35" fill="#000" stroke="#000" stroke-width="0.5" letter-spacing="-0.05">05, 12:35</text>
<text x="593.8" y="2230.2" text-anchor="middle" font-family="Liberation Sans, sans-serif" font-size="35" fill="#000" stroke="#000" stroke-width="0.5" letter-spacing="-0.05">05, 14:10</text>
<text x="783.2" y="2230.2" text-anchor="middle" font-family="Liberation Sans, sans-serif" font-size="35" fill="#000" stroke="#000" stroke-width="0.5" letter-spacing="-0.05">05, 15:45</text>
<text x="972.6" y="2230.2" text-anchor="middle" font-family="Liberation Sans, sans-serif" font-size="35" fill="#000" stroke="#000" stroke-width="0.5" letter-spacing="-0.05">05, 17:20</text>
<text x="1162" y="2230.2" text-anchor="middle" font-family="Liberation Sans, sans-serif" font-size="35" fill="#000" stroke="#000" stroke-width="0.5" letter-spacing="-0.05">05, 18:55</text>
<text x="1351.4" y="2230.2" text-anchor="middle" font-family="Liberation Sans, sans-serif" font-size="35" fill="#000" stroke="#000" stroke-width="0.5" letter-spacing="-0.05">05, 20:30</text>
<text x="1540.8" y="2230.2" text-anchor="middle" font-family="Liberation Sans, sans-serif" font-size="35" fill="#000" stroke="#000" stroke-width="0.5" letter-spacing="-0.05">05, 22:05</text>
<text x="1730.2" y="2230.2" text-anchor="middle" font-family="Liberation Sans, sans-serif" font-size="35" fill="#000" stroke="#000" stroke-width="0.5" letter-spacing="-0.05">05, 23:40</text>
<text x="1919.6" y="2230.2" text-anchor="middle" font-family="Liberation Sans, sans-serif" font-size="35" fill="#000" stroke="#000" stroke-width="0.5" letter-spacing="-0.05">06, 01:15</text>
<text x="2109" y="2230.2" text-anchor="middle" font-family="Liberation Sans, sans-serif" font-size="35" fill="#000" stroke="#000" stroke-width="0.5" letter-spacing="-0.05">06, 02:50</text>
<text x="2298.4" y="2230.2" text-anchor="middle" font-family="Liberation Sans, sans-serif" font-size="35" fill="#000" stroke="#000" stroke-width="0.5" letter-spacing="-0.05">06, 04:25</text>
<text x="2487.8" y="2230.2" text-anchor="middle" font-family="Liberation Sans, sans-serif" font-size="35" fill="#000" stroke="#000" stroke-width="0.5" letter-spacing="-0.05">06, 06:00</text>
<text x="2677.2" y="2230.2" text-anchor="middle" font-family="Liberation Sans, sans-serif" font-size="35" fill="#000" stroke="#000" stroke-width="0.5" letter-spacing="-0.05">06, 07:35</text>
<text x="2866.6" y="2230.2" text-anchor="middle" font-family="Liberation Sans, sans-serif" font-size="35" fill="#000" stroke="#000" stroke-width="0.5" letter-spacing="-0.05">06, 09:10</text>
<text x="3056" y="2230.2" text-anchor="middle" font-family="Liberation Sans, sans-serif" font-size="35" fill="#000" stroke="#000" stroke-width="0.5" letter-spacing="-0.05">06, 10:45</text>
<text x="728.86" y="181.3" font-family="Liberation Sans, sans-serif" font-size="123" textLength="215.16" lengthAdjust="spacingAndGlyphs" fill="#000">BTC</text>
<text x="971.26" y="181.3" font-family="Liberation Sans, sans-serif" font-size="123" textLength="601.14" lengthAdjust="spacingAndGlyphs" fill="#000">Liquidation</text>
<text x="1601.81" y="181.3" font-family="Liberation Sans, sans-serif" font-size="123" textLength="667.02" lengthAdjust="spacingAndGlyphs" fill="#000">Heatmap(24</text>
<text x="2299.8" y="181.3" font-family="Liberation Sans, sans-serif" font-size="123" textLength="284.7" lengthAdjust="spacingAndGlyphs" fill="#000">hour)</text>
<rect x="1313.3" y="311.2" width="30" height="30" fill="#3b1153"/>
<text x="1357.67" y="337.2" font-family="Liberation Sans, sans-serif" font-size="36" textLength="181.58" lengthAdjust="spacingAndGlyphs" fill="#333">Liquidation</text>
<text x="1545.57" y="337.2" font-family="Liberation Sans, sans-serif" font-size="36" textLength="146.71" lengthAdjust="spacingAndGlyphs" fill="#333">Leverage</text>
<text x="1774.17" y="337.2" font-family="Liberation Sans, sans-serif" font-size="36" textLength="197.36" lengthAdjust="spacingAndGlyphs" fill="#333">Supercharts</text>
<rect x="1730.6" y="311.2" width="30" height="30" fill="#10c886"/>
<text x="48" y="2372.3" font-family="Liberation Sans, sans-serif" font-size="72.5" fill="rgba(0,0,0,0.11)" textLength="1199.3" lengthAdjust="spacing" id="wm2">© 2025 CoinGlass, all rights reserved</text>
<text x="3226" y="2372.3" text-anchor="end" font-family="Liberation Sans, sans-serif" font-size="72.5" fill="rgba(0,0,0,0.11)" textLength="656" lengthAdjust="spacing" id="wm3">2025-11-06 10:57:21</text>
<g shape-rendering="auto"><rect x="198.5" y="2277" width="44" height="52" rx="19" ry="19" fill="#33384b" style="filter:drop-shadow(0 0 3px rgba(0,0,0,0.3))"/><rect x="213.5" y="2293" width="4.5" height="20" fill="#959ab1"/><rect x="223.3" y="2293" width="4.5" height="20" fill="#959ab1"/></g>
<g shape-rendering="auto"><rect x="3063.2" y="2277" width="44" height="52" rx="19" ry="19" fill="#33384b" style="filter:drop-shadow(0 0 3px rgba(0,0,0,0.3))"/><rect x="3078.2" y="2293" width="4.5" height="20" fill="#959ab1"/><rect x="3088" y="2293" width="4.5" height="20" fill="#959ab1"/></g>
</svg></body></html>
